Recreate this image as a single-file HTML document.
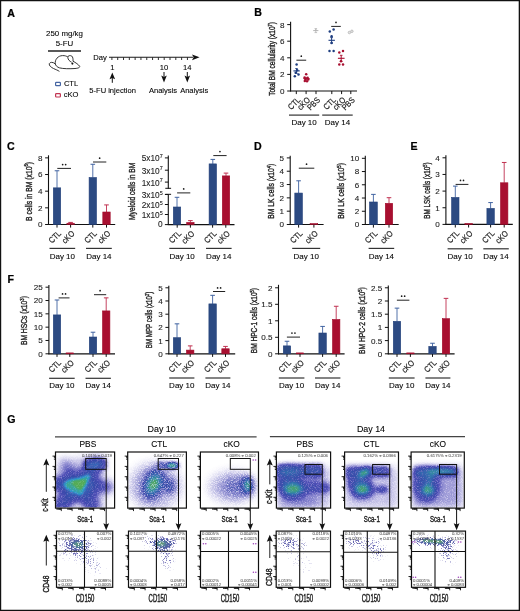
<!DOCTYPE html>
<html><head><meta charset="utf-8"><style>
html,body{margin:0;padding:0;background:#fff;}
svg{display:block;font-family:"Liberation Sans", sans-serif;will-change:transform;}
</style></head><body>
<svg width="520" height="611" viewBox="0 0 520 611">
<rect x="0" y="0" width="520" height="611" fill="#fff"/>
<defs>
<filter id="dm" x="0" y="0" width="1" height="1" color-interpolation-filters="sRGB">
<feGaussianBlur in="SourceGraphic" stdDeviation="0.7" result="d"/>
<feTurbulence type="fractalNoise" baseFrequency="1.2" numOctaves="1" seed="3" result="t"/>
<feColorMatrix in="t" type="matrix" values="1 0 0 0 0  1 0 0 0 0  1 0 0 0 0  0 0 0 0 1" result="ng"/>
<feColorMatrix in="d" type="matrix" values="0 1 0 0 0  0 1 0 0 0  0 1 0 0 0  0 0 0 0 1" result="dg"/>
<feComposite in="dg" in2="ng" operator="arithmetic" k1="-0.5" k2="1.25" k3="0.5" k4="-0.25" result="dj"/>
<feComponentTransfer in="dj" result="col"><feFuncR type="table" tableValues="0.529 0.505 0.481 0.457 0.433 0.408 0.384 0.370 0.356 0.341 0.327 0.312 0.298 0.282 0.265 0.249 0.233 0.220 0.220 0.220 0.220 0.218 0.208 0.198 0.188 0.178 0.189 0.205 0.221 0.241 0.262 0.284 0.306 0.316 0.325 0.335 0.345 0.363 0.412 0.461 0.510"/><feFuncG type="table" tableValues="0.490 0.469 0.447 0.425 0.404 0.382 0.361 0.352 0.342 0.333 0.324 0.315 0.306 0.303 0.299 0.296 0.293 0.295 0.318 0.342 0.365 0.394 0.440 0.486 0.533 0.579 0.603 0.621 0.640 0.650 0.656 0.661 0.667 0.668 0.670 0.672 0.673 0.678 0.694 0.710 0.725"/><feFuncB type="table" tableValues="0.816 0.805 0.795 0.784 0.774 0.763 0.753 0.745 0.737 0.729 0.722 0.714 0.706 0.698 0.690 0.681 0.673 0.669 0.681 0.693 0.704 0.718 0.738 0.759 0.779 0.800 0.755 0.694 0.632 0.572 0.512 0.452 0.392 0.369 0.346 0.324 0.301 0.279 0.265 0.250 0.235"/></feComponentTransfer>
<feColorMatrix in="d" type="matrix" values="0 0 0 0 0  0 0 0 0 0  0 0 0 0 0  4.0 0 0 0 0" result="pa"/>
<feColorMatrix in="t" type="matrix" values="0 0 0 0 0  0 0 0 0 0  0 0 0 0 0  0.8 0 0 0 0.6" result="na"/>
<feComposite in="pa" in2="na" operator="arithmetic" k1="1" k2="0" k3="0" k4="0" result="m"/>
<feComposite in="col" in2="m" operator="in"/>
</filter><filter id="dm2" x="0" y="0" width="1" height="1" color-interpolation-filters="sRGB">
<feGaussianBlur in="SourceGraphic" stdDeviation="0.6" result="d"/>
<feTurbulence type="fractalNoise" baseFrequency="1.3" numOctaves="1" seed="7" result="t"/>
<feColorMatrix in="t" type="matrix" values="1 0 0 0 0  1 0 0 0 0  1 0 0 0 0  0 0 0 0 1" result="ng"/>
<feColorMatrix in="d" type="matrix" values="0 1 0 0 0  0 1 0 0 0  0 1 0 0 0  0 0 0 0 1" result="dg"/>
<feComposite in="dg" in2="ng" operator="arithmetic" k1="-0.9" k2="1.45" k3="0.9" k4="-0.45" result="dj"/>
<feComponentTransfer in="dj" result="col"><feFuncR type="table" tableValues="0.529 0.505 0.481 0.457 0.433 0.408 0.384 0.370 0.356 0.341 0.327 0.312 0.298 0.282 0.265 0.249 0.233 0.219 0.215 0.211 0.207 0.204 0.202 0.200 0.198 0.199 0.211 0.223 0.235 0.257 0.279 0.301 0.315 0.326 0.338 0.349 0.361 0.398 0.435 0.473 0.510"/><feFuncG type="table" tableValues="0.490 0.469 0.447 0.425 0.404 0.382 0.361 0.352 0.342 0.333 0.324 0.315 0.306 0.306 0.306 0.306 0.306 0.310 0.332 0.353 0.375 0.398 0.427 0.457 0.486 0.515 0.542 0.569 0.596 0.612 0.628 0.644 0.652 0.657 0.663 0.669 0.675 0.687 0.700 0.713 0.725"/><feFuncB type="table" tableValues="0.816 0.805 0.795 0.784 0.774 0.763 0.753 0.745 0.737 0.729 0.722 0.714 0.706 0.698 0.690 0.681 0.673 0.668 0.674 0.680 0.685 0.689 0.683 0.677 0.671 0.659 0.623 0.586 0.549 0.500 0.451 0.402 0.374 0.351 0.328 0.305 0.282 0.271 0.259 0.247 0.235"/></feComponentTransfer>
<feColorMatrix in="d" type="matrix" values="0 0 0 0 0  0 0 0 0 0  0 0 0 0 0  3.0 0 0 0 0" result="pa"/>
<feColorMatrix in="t" type="matrix" values="0 0 0 0 0  0 0 0 0 0  0 0 0 0 0  1.9 0 0 0 -0.05" result="na"/>
<feComposite in="pa" in2="na" operator="arithmetic" k1="1" k2="0" k3="0" k4="0" result="m"/>
<feComposite in="col" in2="m" operator="in"/>
</filter><filter id="dm3" x="0" y="0" width="1" height="1" color-interpolation-filters="sRGB">
<feGaussianBlur in="SourceGraphic" stdDeviation="0.7" result="d"/>
<feTurbulence type="fractalNoise" baseFrequency="1.2" numOctaves="1" seed="5" result="t"/>
<feColorMatrix in="t" type="matrix" values="1 0 0 0 0  1 0 0 0 0  1 0 0 0 0  0 0 0 0 1" result="ng"/>
<feColorMatrix in="d" type="matrix" values="0 1 0 0 0  0 1 0 0 0  0 1 0 0 0  0 0 0 0 1" result="dg"/>
<feComposite in="dg" in2="ng" operator="arithmetic" k1="-0.6" k2="1.3" k3="0.6" k4="-0.3" result="dj"/>
<feComponentTransfer in="dj" result="col"><feFuncR type="table" tableValues="0.529 0.505 0.481 0.457 0.433 0.408 0.384 0.370 0.356 0.341 0.327 0.312 0.298 0.282 0.265 0.249 0.233 0.219 0.215 0.211 0.207 0.204 0.202 0.200 0.198 0.199 0.211 0.223 0.235 0.257 0.279 0.301 0.315 0.326 0.338 0.349 0.361 0.398 0.435 0.473 0.510"/><feFuncG type="table" tableValues="0.490 0.469 0.447 0.425 0.404 0.382 0.361 0.352 0.342 0.333 0.324 0.315 0.306 0.306 0.306 0.306 0.306 0.310 0.332 0.353 0.375 0.398 0.427 0.457 0.486 0.515 0.542 0.569 0.596 0.612 0.628 0.644 0.652 0.657 0.663 0.669 0.675 0.687 0.700 0.713 0.725"/><feFuncB type="table" tableValues="0.816 0.805 0.795 0.784 0.774 0.763 0.753 0.745 0.737 0.729 0.722 0.714 0.706 0.698 0.690 0.681 0.673 0.668 0.674 0.680 0.685 0.689 0.683 0.677 0.671 0.659 0.623 0.586 0.549 0.500 0.451 0.402 0.374 0.351 0.328 0.305 0.282 0.271 0.259 0.247 0.235"/></feComponentTransfer>
<feColorMatrix in="d" type="matrix" values="0 0 0 0 0  0 0 0 0 0  0 0 0 0 0  4.0 0 0 0 0" result="pa"/>
<feColorMatrix in="t" type="matrix" values="0 0 0 0 0  0 0 0 0 0  0 0 0 0 0  1.0 0 0 0 0.5" result="na"/>
<feComposite in="pa" in2="na" operator="arithmetic" k1="1" k2="0" k3="0" k4="0" result="m"/>
<feComposite in="col" in2="m" operator="in"/>
</filter><filter id="dm4" x="0" y="0" width="1" height="1" color-interpolation-filters="sRGB">
<feGaussianBlur in="SourceGraphic" stdDeviation="0.6" result="d"/>
<feTurbulence type="fractalNoise" baseFrequency="1.4" numOctaves="1" seed="11" result="t"/>
<feColorMatrix in="t" type="matrix" values="1 0 0 0 0  1 0 0 0 0  1 0 0 0 0  0 0 0 0 1" result="ng"/>
<feColorMatrix in="d" type="matrix" values="0 1 0 0 0  0 1 0 0 0  0 1 0 0 0  0 0 0 0 1" result="dg"/>
<feComposite in="dg" in2="ng" operator="arithmetic" k1="-0.5" k2="1.25" k3="0.5" k4="-0.25" result="dj"/>
<feComponentTransfer in="dj" result="col"><feFuncR type="table" tableValues="0.588 0.571 0.553 0.535 0.518 0.500 0.482 0.465 0.447 0.429 0.412 0.400 0.387 0.375 0.363 0.350 0.338 0.326 0.314 0.317 0.319 0.322 0.325 0.328 0.331 0.336 0.348 0.360 0.373 0.385 0.397 0.409 0.424 0.440 0.455 0.471 0.487 0.502 0.518 0.533 0.549"/><feFuncG type="table" tableValues="0.580 0.562 0.544 0.526 0.508 0.490 0.472 0.454 0.436 0.418 0.400 0.397 0.393 0.390 0.386 0.383 0.379 0.376 0.373 0.396 0.419 0.442 0.465 0.488 0.511 0.533 0.551 0.570 0.588 0.607 0.625 0.643 0.653 0.661 0.668 0.676 0.683 0.691 0.699 0.706 0.714"/><feFuncB type="table" tableValues="0.804 0.793 0.783 0.772 0.762 0.751 0.740 0.730 0.719 0.709 0.698 0.692 0.685 0.679 0.673 0.666 0.660 0.653 0.647 0.638 0.630 0.621 0.612 0.604 0.595 0.582 0.551 0.521 0.490 0.460 0.429 0.398 0.385 0.376 0.367 0.358 0.349 0.340 0.332 0.323 0.314"/></feComponentTransfer>
<feColorMatrix in="d" type="matrix" values="0 0 0 0 0  0 0 0 0 0  0 0 0 0 0  3.0 0 0 0 0" result="pa"/>
<feColorMatrix in="t" type="matrix" values="0 0 0 0 0  0 0 0 0 0  0 0 0 0 0  3.0 0 0 0 -1.0" result="na"/>
<feComposite in="pa" in2="na" operator="arithmetic" k1="0" k2="2.2" k3="2.2" k4="-2.2" result="m"/>
<feComposite in="col" in2="m" operator="in"/>
</filter>
<filter id="b2_5" filterUnits="userSpaceOnUse" x="0" y="400" width="520" height="211"><feGaussianBlur stdDeviation="2.5"/></filter>
<filter id="b4" filterUnits="userSpaceOnUse" x="0" y="400" width="520" height="211"><feGaussianBlur stdDeviation="4"/></filter>
<filter id="b1_5" filterUnits="userSpaceOnUse" x="0" y="400" width="520" height="211"><feGaussianBlur stdDeviation="1.5"/></filter>
<filter id="b1" filterUnits="userSpaceOnUse" x="0" y="400" width="520" height="211"><feGaussianBlur stdDeviation="1"/></filter>
<filter id="b2" filterUnits="userSpaceOnUse" x="0" y="400" width="520" height="211"><feGaussianBlur stdDeviation="2"/></filter>
<filter id="b3" filterUnits="userSpaceOnUse" x="0" y="400" width="520" height="211"><feGaussianBlur stdDeviation="3"/></filter>
<filter id="b5" filterUnits="userSpaceOnUse" x="0" y="400" width="520" height="211"><feGaussianBlur stdDeviation="5"/></filter>
</defs>
<text font-size="11.8" font-weight="bold" fill="#000" stroke="#000" stroke-width="0.25" transform="translate(7.2 16.6) scale(0.9 1)">A</text>
<text x="64.5" y="36.4" font-size="7.9" stroke="#1a1a1a" stroke-width="0.1" text-anchor="middle" >250 mg/kg</text>
<text x="64.4" y="45.6" font-size="7.9" stroke="#1a1a1a" stroke-width="0.1" text-anchor="middle" >5-FU</text>
<line x1="48" y1="51" x2="81" y2="51" stroke="#222" stroke-width="1.3" />
<path d="M55.2,64 C54.8,59.3 58,55.8 62.5,55.6 C64.8,55.5 66.6,56.1 67.9,57.1" stroke="#2a2a2a" stroke-width="0.95" fill="none" />
<path d="M67.9,57.2 C67.6,55.6 70.4,55.1 71.8,56.1 C72.9,56.9 73.2,59.4 73.0,61.2" stroke="#2a2a2a" stroke-width="0.95" fill="none" />
<path d="M67.9,57.4 C67.8,59.6 69.6,61.2 71.6,62.2" stroke="#2a2a2a" stroke-width="0.95" fill="none" />
<path d="M73.0,61.2 C75.6,62.6 78.6,64.6 79.6,66.2 C80.2,67.5 78.2,68.3 75,68.5 C70,68.9 63,68.8 59.6,67.9 C57.2,67.2 55.6,65.6 55.2,63.6" stroke="#2a2a2a" stroke-width="0.95" fill="none" />
<path d="M55,63.8 C53,61.8 50,62 49.3,63.6 C48.8,65.5 51,67.3 53.5,68.5 C55.5,69.5 58,70.3 59.4,71.4" stroke="#2a2a2a" stroke-width="0.95" fill="none" />
<circle cx="72.4" cy="63.6" r="1.05" fill="#111"/>
<rect x="55.6" y="82.3" width="4.8" height="3.4" rx="0.8" fill="none" stroke="#4565a3" stroke-width="1.2"/>
<rect x="55.6" y="93.6" width="4.8" height="3.4" rx="0.8" fill="none" stroke="#c23552" stroke-width="1.2"/>
<text x="63.9" y="86.4" font-size="7.6" stroke="#1a1a1a" stroke-width="0.1" >CTL</text>
<text x="63.7" y="97.4" font-size="7.6" stroke="#1a1a1a" stroke-width="0.1" >cKO</text>
<text x="93.3" y="60.2" font-size="7.6" stroke="#1a1a1a" stroke-width="0.1" >Day</text>
<line x1="109" y1="57.3" x2="193" y2="57.3" stroke="#1a1a1a" stroke-width="1.1" />
<path d="M192,54.4 L199.6,57.3 L192,60.2 L193.6,57.3 Z" fill="#111"/>
<line x1="111.9" y1="57.3" x2="111.9" y2="60.0" stroke="#1a1a1a" stroke-width="0.9" />
<line x1="117.71" y1="57.3" x2="117.71" y2="60.0" stroke="#1a1a1a" stroke-width="0.9" />
<line x1="123.52" y1="57.3" x2="123.52" y2="60.0" stroke="#1a1a1a" stroke-width="0.9" />
<line x1="129.33" y1="57.3" x2="129.33" y2="60.0" stroke="#1a1a1a" stroke-width="0.9" />
<line x1="135.14" y1="57.3" x2="135.14" y2="60.0" stroke="#1a1a1a" stroke-width="0.9" />
<line x1="140.95" y1="57.3" x2="140.95" y2="60.0" stroke="#1a1a1a" stroke-width="0.9" />
<line x1="146.76" y1="57.3" x2="146.76" y2="60.0" stroke="#1a1a1a" stroke-width="0.9" />
<line x1="152.57" y1="57.3" x2="152.57" y2="60.0" stroke="#1a1a1a" stroke-width="0.9" />
<line x1="158.38" y1="57.3" x2="158.38" y2="60.0" stroke="#1a1a1a" stroke-width="0.9" />
<line x1="164.19" y1="57.3" x2="164.19" y2="60.0" stroke="#1a1a1a" stroke-width="0.9" />
<line x1="170.0" y1="57.3" x2="170.0" y2="60.0" stroke="#1a1a1a" stroke-width="0.9" />
<line x1="175.81" y1="57.3" x2="175.81" y2="60.0" stroke="#1a1a1a" stroke-width="0.9" />
<line x1="181.62" y1="57.3" x2="181.62" y2="60.0" stroke="#1a1a1a" stroke-width="0.9" />
<line x1="187.43" y1="57.3" x2="187.43" y2="60.0" stroke="#1a1a1a" stroke-width="0.9" />
<text x="112.3" y="70.0" font-size="7.6" stroke="#1a1a1a" stroke-width="0.1" text-anchor="middle" >1</text>
<text x="164.0" y="70.0" font-size="7.6" stroke="#1a1a1a" stroke-width="0.1" text-anchor="middle" >10</text>
<text x="187.2" y="70.0" font-size="7.6" stroke="#1a1a1a" stroke-width="0.1" text-anchor="middle" >14</text>
<line x1="112.3" y1="76" x2="112.3" y2="82.8" stroke="#111" stroke-width="1.0" />
<path d="M109.5,79.3 L112.3,72.4 L115.1,79.3 L112.3,78 Z" fill="#111"/>
<line x1="164.0" y1="72.0" x2="164.0" y2="78.5" stroke="#111" stroke-width="1.0" />
<path d="M161.2,75.6 L164.0,82.4 L166.8,75.6 L164.0,76.9 Z" fill="#111"/>
<line x1="187.3" y1="72.0" x2="187.3" y2="78.5" stroke="#111" stroke-width="1.0" />
<path d="M184.5,75.6 L187.3,82.4 L190.10000000000002,75.6 L187.3,76.9 Z" fill="#111"/>
<text x="112.6" y="92.8" font-size="7.55" stroke="#1a1a1a" stroke-width="0.1" text-anchor="middle" >5-FU injection</text>
<text x="163.0" y="92.8" font-size="7.55" stroke="#1a1a1a" stroke-width="0.1" text-anchor="middle" >Analysis</text>
<text x="194.2" y="92.8" font-size="7.55" stroke="#1a1a1a" stroke-width="0.1" text-anchor="middle" >Analysis</text>
<text font-size="11.8" font-weight="bold" fill="#000" stroke="#000" stroke-width="0.25" transform="translate(254.3 16.4) scale(0.9 1)">B</text>
<line x1="290.6" y1="21.8" x2="290.6" y2="91.5" stroke="#111" stroke-width="1.1" />
<line x1="287.20000000000005" y1="91.0" x2="290.6" y2="91.0" stroke="#111" stroke-width="1.0" />
<text x="284.5" y="93.9" font-size="8.1" stroke="#222" stroke-width="0.1" text-anchor="end" fill="#222" >0</text>
<line x1="287.20000000000005" y1="74.4" x2="290.6" y2="74.4" stroke="#111" stroke-width="1.0" />
<text x="284.5" y="77.3" font-size="8.1" stroke="#222" stroke-width="0.1" text-anchor="end" fill="#222" >2</text>
<line x1="287.20000000000005" y1="57.8" x2="290.6" y2="57.8" stroke="#111" stroke-width="1.0" />
<text x="284.5" y="60.7" font-size="8.1" stroke="#222" stroke-width="0.1" text-anchor="end" fill="#222" >4</text>
<line x1="287.20000000000005" y1="41.199999999999996" x2="290.6" y2="41.199999999999996" stroke="#111" stroke-width="1.0" />
<text x="284.5" y="44.1" font-size="8.1" stroke="#222" stroke-width="0.1" text-anchor="end" fill="#222" >6</text>
<line x1="287.20000000000005" y1="24.599999999999994" x2="290.6" y2="24.599999999999994" stroke="#111" stroke-width="1.0" />
<text x="284.5" y="27.5" font-size="8.1" stroke="#222" stroke-width="0.1" text-anchor="end" fill="#222" >8</text>
<line x1="290.1" y1="91.0" x2="357" y2="91.0" stroke="#111" stroke-width="1.2" />
<line x1="296.3" y1="91.0" x2="296.3" y2="94.1" stroke="#111" stroke-width="1.0" />
<line x1="306.1" y1="91.0" x2="306.1" y2="94.1" stroke="#111" stroke-width="1.0" />
<line x1="316.0" y1="91.0" x2="316.0" y2="94.1" stroke="#111" stroke-width="1.0" />
<line x1="331.8" y1="91.0" x2="331.8" y2="94.1" stroke="#111" stroke-width="1.0" />
<line x1="341.6" y1="91.0" x2="341.6" y2="94.1" stroke="#111" stroke-width="1.0" />
<line x1="350.8" y1="91.0" x2="350.8" y2="94.1" stroke="#111" stroke-width="1.0" />
<circle cx="296.6" cy="64.4" r="1.25" fill="#1f3e80"/>
<circle cx="294.8" cy="76.2" r="1.25" fill="#1f3e80"/>
<circle cx="298.5" cy="74.6" r="1.25" fill="#1f3e80"/>
<circle cx="295.7" cy="72.8" r="1.25" fill="#1f3e80"/>
<circle cx="297.2" cy="70.2" r="1.25" fill="#1f3e80"/>
<line x1="293.4" y1="70.9" x2="299.8" y2="70.9" stroke="#1f3e80" stroke-width="1.1" />
<line x1="296.5" y1="68.6" x2="296.5" y2="73.3" stroke="#1f3e80" stroke-width="1.0" />
<line x1="295.2" y1="68.6" x2="297.8" y2="68.6" stroke="#1f3e80" stroke-width="0.9" />
<line x1="295.2" y1="73.3" x2="297.8" y2="73.3" stroke="#1f3e80" stroke-width="0.9" />
<circle cx="306.2" cy="74.2" r="1.25" fill="#a80f30"/>
<circle cx="304.6" cy="77.6" r="1.25" fill="#a80f30"/>
<circle cx="307.6" cy="77.8" r="1.25" fill="#a80f30"/>
<circle cx="305.4" cy="79.4" r="1.25" fill="#a80f30"/>
<circle cx="308.3" cy="79.6" r="1.25" fill="#a80f30"/>
<circle cx="304.8" cy="80.9" r="1.25" fill="#a80f30"/>
<circle cx="307.0" cy="81.2" r="1.25" fill="#a80f30"/>
<circle cx="306.2" cy="78.6" r="1.25" fill="#a80f30"/>
<line x1="303.3" y1="78.6" x2="309.6" y2="78.6" stroke="#a80f30" stroke-width="1.0" />
<line x1="313.2" y1="30.6" x2="318.4" y2="30.6" stroke="#b5b5b5" stroke-width="1.0" />
<line x1="315.8" y1="28.6" x2="315.8" y2="32.6" stroke="#b5b5b5" stroke-width="0.9" />
<line x1="314.5" y1="28.6" x2="317.1" y2="28.6" stroke="#b5b5b5" stroke-width="0.8" />
<line x1="314.5" y1="32.6" x2="317.1" y2="32.6" stroke="#b5b5b5" stroke-width="0.8" />
<circle cx="315.8" cy="30.2" r="0.9" fill="#b5b5b5"/>
<circle cx="329.8" cy="31.4" r="1.25" fill="#1f3e80"/>
<circle cx="333.6" cy="29.6" r="1.25" fill="#1f3e80"/>
<circle cx="331.6" cy="36.3" r="1.25" fill="#1f3e80"/>
<circle cx="331.6" cy="43.0" r="1.25" fill="#1f3e80"/>
<circle cx="329.5" cy="51.1" r="1.25" fill="#1f3e80"/>
<circle cx="333.6" cy="51.1" r="1.25" fill="#1f3e80"/>
<line x1="328.5" y1="40.3" x2="334.9" y2="40.3" stroke="#1f3e80" stroke-width="1.1" />
<line x1="331.6" y1="37.6" x2="331.6" y2="43.0" stroke="#1f3e80" stroke-width="1.0" />
<line x1="330.3" y1="37.6" x2="332.9" y2="37.6" stroke="#1f3e80" stroke-width="0.9" />
<line x1="330.3" y1="43.0" x2="332.9" y2="43.0" stroke="#1f3e80" stroke-width="0.9" />
<circle cx="339.3" cy="52.6" r="1.25" fill="#a80f30"/>
<circle cx="343.0" cy="51.1" r="1.25" fill="#a80f30"/>
<circle cx="339.3" cy="64.5" r="1.25" fill="#a80f30"/>
<circle cx="343.0" cy="64.5" r="1.25" fill="#a80f30"/>
<circle cx="341.0" cy="61.2" r="1.25" fill="#a80f30"/>
<line x1="337.9" y1="58.3" x2="344.6" y2="58.3" stroke="#a80f30" stroke-width="1.1" />
<line x1="341.2" y1="55.3" x2="341.2" y2="61.3" stroke="#a80f30" stroke-width="1.0" />
<line x1="339.9" y1="55.3" x2="342.5" y2="55.3" stroke="#a80f30" stroke-width="0.9" />
<line x1="339.9" y1="61.3" x2="342.5" y2="61.3" stroke="#a80f30" stroke-width="0.9" />
<circle cx="349.4" cy="32.5" r="1.25" fill="#e4e4e4" stroke="#b5b5b5" stroke-width="0.8"/><circle cx="351.9" cy="31.3" r="1.25" fill="#e4e4e4" stroke="#b5b5b5" stroke-width="0.8"/>
<line x1="296.4" y1="60.2" x2="306.2" y2="60.2" stroke="#222" stroke-width="1.0" />
<circle cx="301.30" cy="56.20" r="0.85" fill="#1a1a1a"/>
<line x1="331.2" y1="26.4" x2="340.8" y2="26.4" stroke="#222" stroke-width="1.0" />
<circle cx="336.00" cy="22.40" r="0.85" fill="#1a1a1a"/>
<text font-size="8.4" text-anchor="end" fill="#222" stroke="#222" stroke-width="0.2" transform="translate(300.90 100.60) rotate(-45) scale(0.86 1)">CTL</text>
<text font-size="8.4" text-anchor="end" fill="#222" stroke="#222" stroke-width="0.2" transform="translate(310.70 100.60) rotate(-45) scale(0.86 1)">cKO</text>
<text font-size="8.4" text-anchor="end" fill="#222" stroke="#222" stroke-width="0.2" transform="translate(320.60 100.60) rotate(-45) scale(0.86 1)">PBS</text>
<text font-size="8.4" text-anchor="end" fill="#222" stroke="#222" stroke-width="0.2" transform="translate(336.40 100.60) rotate(-45) scale(0.86 1)">CTL</text>
<text font-size="8.4" text-anchor="end" fill="#222" stroke="#222" stroke-width="0.2" transform="translate(346.20 100.60) rotate(-45) scale(0.86 1)">cKO</text>
<text font-size="8.4" text-anchor="end" fill="#222" stroke="#222" stroke-width="0.2" transform="translate(355.40 100.60) rotate(-45) scale(0.86 1)">PBS</text>
<line x1="289" y1="115.1" x2="319.2" y2="115.1" stroke="#333" stroke-width="1.2" />
<text x="304.1" y="124.9" font-size="8.0" stroke="#1a1a1a" stroke-width="0.1" text-anchor="middle" >Day 10</text>
<line x1="322.2" y1="115.1" x2="352.7" y2="115.1" stroke="#333" stroke-width="1.2" />
<text x="337.45" y="124.9" font-size="8.0" stroke="#1a1a1a" stroke-width="0.1" text-anchor="middle" >Day 14</text>
<text font-size="8.8" text-anchor="middle" fill="#222" stroke="#222" stroke-width="0.36" transform="translate(275.4 58.9) rotate(-90) scale(0.748 1)">Total BM cellularity (x10<tspan font-size="5.46" dy="-3.52">7</tspan><tspan dy="3.52">)</tspan></text>
<text font-size="11.8" font-weight="bold" fill="#000" stroke="#000" stroke-width="0.25" transform="translate(7.0 149.6) scale(0.9 1)">C</text>
<line x1="48.5" y1="155.3" x2="48.5" y2="225.0" stroke="#111" stroke-width="1.1" />
<line x1="45.1" y1="224.5" x2="48.5" y2="224.5" stroke="#111" stroke-width="1.0" />
<text x="42.4" y="227.4" font-size="8.1" stroke="#222" stroke-width="0.1" text-anchor="end" fill="#222" >0</text>
<line x1="45.1" y1="207.84" x2="48.5" y2="207.84" stroke="#111" stroke-width="1.0" />
<text x="42.4" y="210.74" font-size="8.1" stroke="#222" stroke-width="0.1" text-anchor="end" fill="#222" >2</text>
<line x1="45.1" y1="191.18" x2="48.5" y2="191.18" stroke="#111" stroke-width="1.0" />
<text x="42.4" y="194.08" font-size="8.1" stroke="#222" stroke-width="0.1" text-anchor="end" fill="#222" >4</text>
<line x1="45.1" y1="174.51999999999998" x2="48.5" y2="174.51999999999998" stroke="#111" stroke-width="1.0" />
<text x="42.4" y="177.42" font-size="8.1" stroke="#222" stroke-width="0.1" text-anchor="end" fill="#222" >6</text>
<line x1="45.1" y1="157.86" x2="48.5" y2="157.86" stroke="#111" stroke-width="1.0" />
<text x="42.4" y="160.76" font-size="8.1" stroke="#222" stroke-width="0.1" text-anchor="end" fill="#222" >8</text>
<line x1="48.0" y1="224.5" x2="115.2" y2="224.5" stroke="#111" stroke-width="1.2" />
<line x1="57.0" y1="224.5" x2="57.0" y2="227.6" stroke="#111" stroke-width="1.0" />
<line x1="70.6" y1="224.5" x2="70.6" y2="227.6" stroke="#111" stroke-width="1.0" />
<line x1="92.8" y1="224.5" x2="92.8" y2="227.6" stroke="#111" stroke-width="1.0" />
<line x1="106.5" y1="224.5" x2="106.5" y2="227.6" stroke="#111" stroke-width="1.0" />
<line x1="57.0" y1="170.77" x2="57.0" y2="187.85" stroke="#3f62a0" stroke-width="0.9" />
<line x1="54.7" y1="170.77" x2="59.3" y2="170.77" stroke="#3f62a0" stroke-width="1.0" />
<rect x="53.30" y="187.85" width="7.40" height="36.65" fill="#2c4a82" stroke="#22407a" stroke-width="0.6"/>
<line x1="70.6" y1="222.42" x2="70.6" y2="223.25" stroke="#c0304f" stroke-width="0.9" />
<line x1="68.3" y1="222.42" x2="72.89999999999999" y2="222.42" stroke="#c0304f" stroke-width="1.0" />
<rect x="66.90" y="223.25" width="7.40" height="1.25" fill="#a80f30" stroke="#a00a2a" stroke-width="0.6"/>
<line x1="92.8" y1="164.27" x2="92.8" y2="177.52" stroke="#3f62a0" stroke-width="0.9" />
<line x1="90.5" y1="164.27" x2="95.1" y2="164.27" stroke="#3f62a0" stroke-width="1.0" />
<rect x="89.10" y="177.52" width="7.40" height="46.98" fill="#2c4a82" stroke="#22407a" stroke-width="0.6"/>
<line x1="106.5" y1="204.92" x2="106.5" y2="212.0" stroke="#c0304f" stroke-width="0.9" />
<line x1="104.2" y1="204.92" x2="108.8" y2="204.92" stroke="#c0304f" stroke-width="1.0" />
<rect x="102.80" y="212.00" width="7.40" height="12.50" fill="#a80f30" stroke="#a00a2a" stroke-width="0.6"/>
<line x1="57.3" y1="168.4" x2="71.0" y2="168.4" stroke="#222" stroke-width="1.0" />
<circle cx="62.65" cy="164.60" r="0.85" fill="#1a1a1a"/>
<circle cx="65.65" cy="164.60" r="0.85" fill="#1a1a1a"/>
<line x1="93.0" y1="162.0" x2="106.3" y2="162.0" stroke="#222" stroke-width="1.0" />
<circle cx="99.65" cy="158.20" r="0.85" fill="#1a1a1a"/>
<text font-size="8.4" text-anchor="end" fill="#222" stroke="#222" stroke-width="0.2" transform="translate(61.60 234.10) rotate(-45) scale(0.86 1)">CTL</text>
<text font-size="8.4" text-anchor="end" fill="#222" stroke="#222" stroke-width="0.2" transform="translate(75.20 234.10) rotate(-45) scale(0.86 1)">cKO</text>
<text font-size="8.4" text-anchor="end" fill="#222" stroke="#222" stroke-width="0.2" transform="translate(97.40 234.10) rotate(-45) scale(0.86 1)">CTL</text>
<text font-size="8.4" text-anchor="end" fill="#222" stroke="#222" stroke-width="0.2" transform="translate(111.10 234.10) rotate(-45) scale(0.86 1)">cKO</text>
<line x1="49.5" y1="248.4" x2="75.2" y2="248.4" stroke="#333" stroke-width="1.2" />
<text x="62.35" y="258.5" font-size="8.0" stroke="#1a1a1a" stroke-width="0.1" text-anchor="middle" >Day 10</text>
<line x1="86.0" y1="248.4" x2="111.8" y2="248.4" stroke="#333" stroke-width="1.2" />
<text x="98.9" y="258.5" font-size="8.0" stroke="#1a1a1a" stroke-width="0.1" text-anchor="middle" >Day 14</text>
<text font-size="8.8" text-anchor="middle" fill="#222" stroke="#222" stroke-width="0.36" transform="translate(31.5 191.4) rotate(-90) scale(0.772 1)">B cells in BM (x10<tspan font-size="5.46" dy="-3.52">6</tspan><tspan dy="3.52">)</tspan></text>
<line x1="168.3" y1="155.4" x2="168.3" y2="188.8" stroke="#111" stroke-width="1.1" />
<line x1="168.3" y1="194.2" x2="168.3" y2="225.1" stroke="#111" stroke-width="1.1" />
<line x1="165.3" y1="188.3" x2="171.10000000000002" y2="188.3" stroke="#111" stroke-width="1.0" />
<line x1="165.3" y1="194.3" x2="171.10000000000002" y2="194.3" stroke="#111" stroke-width="1.0" />
<line x1="164.9" y1="157.9" x2="168.3" y2="157.9" stroke="#111" stroke-width="1.0" />
<text x="162.70000000000002" y="161.40" font-size="8.3" text-anchor="end" fill="#222" stroke="#222" stroke-width="0.1">5x10<tspan font-size="5.4" dy="-3.5">7</tspan></text>
<line x1="164.9" y1="170.2" x2="168.3" y2="170.2" stroke="#111" stroke-width="1.0" />
<text x="162.70000000000002" y="173.70" font-size="8.3" text-anchor="end" fill="#222" stroke="#222" stroke-width="0.1">3x10<tspan font-size="5.4" dy="-3.5">7</tspan></text>
<line x1="164.9" y1="182.1" x2="168.3" y2="182.1" stroke="#111" stroke-width="1.0" />
<text x="162.70000000000002" y="185.60" font-size="8.3" text-anchor="end" fill="#222" stroke="#222" stroke-width="0.1">1x10<tspan font-size="5.4" dy="-3.5">7</tspan></text>
<line x1="164.9" y1="194.5" x2="168.3" y2="194.5" stroke="#111" stroke-width="1.0" />
<text x="162.70000000000002" y="198.00" font-size="8.3" text-anchor="end" fill="#222" stroke="#222" stroke-width="0.1">3x10<tspan font-size="5.4" dy="-3.5">5</tspan></text>
<line x1="164.9" y1="204.5" x2="168.3" y2="204.5" stroke="#111" stroke-width="1.0" />
<text x="162.70000000000002" y="208.00" font-size="8.3" text-anchor="end" fill="#222" stroke="#222" stroke-width="0.1">2x10<tspan font-size="5.4" dy="-3.5">5</tspan></text>
<line x1="164.9" y1="214.5" x2="168.3" y2="214.5" stroke="#111" stroke-width="1.0" />
<text x="162.70000000000002" y="218.00" font-size="8.3" text-anchor="end" fill="#222" stroke="#222" stroke-width="0.1">1x10<tspan font-size="5.4" dy="-3.5">5</tspan></text>
<line x1="164.9" y1="224.6" x2="168.3" y2="224.6" stroke="#111" stroke-width="1.0" />
<text x="162.70000000000002" y="227.2" font-size="8.3" stroke="#222" stroke-width="0.1" text-anchor="end" fill="#222" >0</text>
<line x1="167.8" y1="224.6" x2="234.5" y2="224.6" stroke="#111" stroke-width="1.2" />
<line x1="177.2" y1="224.6" x2="177.2" y2="227.7" stroke="#111" stroke-width="1.0" />
<line x1="190.4" y1="224.6" x2="190.4" y2="227.7" stroke="#111" stroke-width="1.0" />
<line x1="212.6" y1="224.6" x2="212.6" y2="227.7" stroke="#111" stroke-width="1.0" />
<line x1="225.8" y1="224.6" x2="225.8" y2="227.7" stroke="#111" stroke-width="1.0" />
<line x1="177.0" y1="197.3" x2="177.0" y2="207.0" stroke="#3f62a0" stroke-width="0.9" />
<line x1="174.7" y1="197.3" x2="179.3" y2="197.3" stroke="#3f62a0" stroke-width="1.0" />
<rect x="173.30" y="207.00" width="7.4" height="17.60" fill="#2c4a82" stroke="#22407a" stroke-width="0.6"/>
<line x1="190.4" y1="220.6" x2="190.4" y2="222.4" stroke="#c0304f" stroke-width="0.9" />
<line x1="188.1" y1="220.6" x2="192.70000000000002" y2="220.6" stroke="#c0304f" stroke-width="1.0" />
<rect x="186.70" y="222.40" width="7.4" height="2.20" fill="#a80f30" stroke="#a00a2a" stroke-width="0.6"/>
<line x1="212.8" y1="159.4" x2="212.8" y2="163.9" stroke="#3f62a0" stroke-width="0.9" />
<line x1="210.5" y1="159.4" x2="215.10000000000002" y2="159.4" stroke="#3f62a0" stroke-width="1.0" />
<rect x="209.10" y="163.90" width="7.4" height="60.70" fill="#2c4a82" stroke="#22407a" stroke-width="0.6"/>
<line x1="226.0" y1="173.1" x2="226.0" y2="175.9" stroke="#c0304f" stroke-width="0.9" />
<line x1="223.7" y1="173.1" x2="228.3" y2="173.1" stroke="#c0304f" stroke-width="1.0" />
<rect x="222.30" y="175.90" width="7.4" height="48.70" fill="#a80f30" stroke="#a00a2a" stroke-width="0.6"/>
<line x1="177.1" y1="192.9" x2="190.3" y2="192.9" stroke="#222" stroke-width="1.0" />
<circle cx="183.70" cy="188.90" r="0.85" fill="#1a1a1a"/>
<line x1="213.3" y1="155.6" x2="226.6" y2="155.6" stroke="#222" stroke-width="1.0" />
<circle cx="219.95" cy="151.60" r="0.85" fill="#1a1a1a"/>
<text font-size="8.4" text-anchor="end" fill="#222" stroke="#222" stroke-width="0.2" transform="translate(181.80 234.20) rotate(-45) scale(0.86 1)">CTL</text>
<text font-size="8.4" text-anchor="end" fill="#222" stroke="#222" stroke-width="0.2" transform="translate(195.00 234.20) rotate(-45) scale(0.86 1)">cKO</text>
<text font-size="8.4" text-anchor="end" fill="#222" stroke="#222" stroke-width="0.2" transform="translate(217.20 234.20) rotate(-45) scale(0.86 1)">CTL</text>
<text font-size="8.4" text-anchor="end" fill="#222" stroke="#222" stroke-width="0.2" transform="translate(230.40 234.20) rotate(-45) scale(0.86 1)">cKO</text>
<line x1="169.3" y1="248.4" x2="195.0" y2="248.4" stroke="#333" stroke-width="1.2" />
<text x="182.15" y="258.5" font-size="8.0" stroke="#1a1a1a" stroke-width="0.1" text-anchor="middle" >Day 10</text>
<line x1="206.0" y1="248.4" x2="231.6" y2="248.4" stroke="#333" stroke-width="1.2" />
<text x="218.8" y="258.5" font-size="8.0" stroke="#1a1a1a" stroke-width="0.1" text-anchor="middle" >Day 14</text>
<text font-size="8.8" text-anchor="middle" fill="#222" stroke="#222" stroke-width="0.36" transform="translate(135.4 191.3) rotate(-90) scale(0.762 1)">Myeloid cells in BM</text>
<text font-size="11.8" font-weight="bold" fill="#000" stroke="#000" stroke-width="0.25" transform="translate(254.0 149.6) scale(0.9 1)">D</text>
<line x1="290.2" y1="155.8" x2="290.2" y2="225.0" stroke="#111" stroke-width="1.1" />
<line x1="286.8" y1="224.5" x2="290.2" y2="224.5" stroke="#111" stroke-width="1.0" />
<text x="284.1" y="227.4" font-size="8.1" stroke="#222" stroke-width="0.1" text-anchor="end" fill="#222" >0</text>
<line x1="286.8" y1="211.18" x2="290.2" y2="211.18" stroke="#111" stroke-width="1.0" />
<text x="284.1" y="214.08" font-size="8.1" stroke="#222" stroke-width="0.1" text-anchor="end" fill="#222" >1</text>
<line x1="286.8" y1="197.86" x2="290.2" y2="197.86" stroke="#111" stroke-width="1.0" />
<text x="284.1" y="200.76" font-size="8.1" stroke="#222" stroke-width="0.1" text-anchor="end" fill="#222" >2</text>
<line x1="286.8" y1="184.54" x2="290.2" y2="184.54" stroke="#111" stroke-width="1.0" />
<text x="284.1" y="187.44" font-size="8.1" stroke="#222" stroke-width="0.1" text-anchor="end" fill="#222" >3</text>
<line x1="286.8" y1="171.22" x2="290.2" y2="171.22" stroke="#111" stroke-width="1.0" />
<text x="284.1" y="174.12" font-size="8.1" stroke="#222" stroke-width="0.1" text-anchor="end" fill="#222" >4</text>
<line x1="286.8" y1="157.9" x2="290.2" y2="157.9" stroke="#111" stroke-width="1.0" />
<text x="284.1" y="160.8" font-size="8.1" stroke="#222" stroke-width="0.1" text-anchor="end" fill="#222" >5</text>
<line x1="289.7" y1="224.5" x2="323.6" y2="224.5" stroke="#111" stroke-width="1.2" />
<line x1="298.6" y1="224.5" x2="298.6" y2="227.6" stroke="#111" stroke-width="1.0" />
<line x1="313.9" y1="224.5" x2="313.9" y2="227.6" stroke="#111" stroke-width="1.0" />
<line x1="298.6" y1="180.81" x2="298.6" y2="193.06" stroke="#3f62a0" stroke-width="0.9" />
<line x1="296.3" y1="180.81" x2="300.90000000000003" y2="180.81" stroke="#3f62a0" stroke-width="1.0" />
<rect x="294.80" y="193.06" width="7.60" height="31.44" fill="#2c4a82" stroke="#22407a" stroke-width="0.6"/>
<rect x="310.10" y="223.60" width="7.60" height="0.90" fill="#a80f30" stroke="#a00a2a" stroke-width="0.6"/>
<line x1="298.8" y1="168.2" x2="314.3" y2="168.2" stroke="#222" stroke-width="1.0" />
<circle cx="306.55" cy="164.20" r="0.85" fill="#1a1a1a"/>
<text font-size="8.4" text-anchor="end" fill="#222" stroke="#222" stroke-width="0.2" transform="translate(303.20 234.10) rotate(-45) scale(0.86 1)">CTL</text>
<text font-size="8.4" text-anchor="end" fill="#222" stroke="#222" stroke-width="0.2" transform="translate(318.50 234.10) rotate(-45) scale(0.86 1)">cKO</text>
<line x1="292.2" y1="248.4" x2="320.2" y2="248.4" stroke="#333" stroke-width="1.2" />
<text x="306.2" y="258.5" font-size="8.0" stroke="#1a1a1a" stroke-width="0.1" text-anchor="middle" >Day 10</text>
<text font-size="8.8" text-anchor="middle" fill="#222" stroke="#222" stroke-width="0.36" transform="translate(274.3 191.2) rotate(-90) scale(0.767 1)">BM LK cells (x10<tspan font-size="5.46" dy="-3.52">4</tspan><tspan dy="3.52">)</tspan></text>
<line x1="365.3" y1="155.8" x2="365.3" y2="225.0" stroke="#111" stroke-width="1.1" />
<line x1="361.90000000000003" y1="224.5" x2="365.3" y2="224.5" stroke="#111" stroke-width="1.0" />
<text x="359.2" y="227.4" font-size="8.1" stroke="#222" stroke-width="0.1" text-anchor="end" fill="#222" >0</text>
<line x1="361.90000000000003" y1="211.26" x2="365.3" y2="211.26" stroke="#111" stroke-width="1.0" />
<text x="359.2" y="214.16" font-size="8.1" stroke="#222" stroke-width="0.1" text-anchor="end" fill="#222" >2</text>
<line x1="361.90000000000003" y1="198.02" x2="365.3" y2="198.02" stroke="#111" stroke-width="1.0" />
<text x="359.2" y="200.92" font-size="8.1" stroke="#222" stroke-width="0.1" text-anchor="end" fill="#222" >4</text>
<line x1="361.90000000000003" y1="184.78" x2="365.3" y2="184.78" stroke="#111" stroke-width="1.0" />
<text x="359.2" y="187.68" font-size="8.1" stroke="#222" stroke-width="0.1" text-anchor="end" fill="#222" >6</text>
<line x1="361.90000000000003" y1="171.54" x2="365.3" y2="171.54" stroke="#111" stroke-width="1.0" />
<text x="359.2" y="174.44" font-size="8.1" stroke="#222" stroke-width="0.1" text-anchor="end" fill="#222" >8</text>
<line x1="361.90000000000003" y1="158.3" x2="365.3" y2="158.3" stroke="#111" stroke-width="1.0" />
<text x="359.2" y="161.2" font-size="8.1" stroke="#222" stroke-width="0.1" text-anchor="end" fill="#222" >10</text>
<line x1="364.8" y1="224.5" x2="398.7" y2="224.5" stroke="#111" stroke-width="1.2" />
<line x1="373.4" y1="224.5" x2="373.4" y2="227.6" stroke="#111" stroke-width="1.0" />
<line x1="389.0" y1="224.5" x2="389.0" y2="227.6" stroke="#111" stroke-width="1.0" />
<line x1="373.4" y1="194.38" x2="373.4" y2="201.99" stroke="#3f62a0" stroke-width="0.9" />
<line x1="371.09999999999997" y1="194.38" x2="375.7" y2="194.38" stroke="#3f62a0" stroke-width="1.0" />
<rect x="369.50" y="201.99" width="7.80" height="22.51" fill="#2c4a82" stroke="#22407a" stroke-width="0.6"/>
<line x1="389.0" y1="197.69" x2="389.0" y2="203.32" stroke="#c0304f" stroke-width="0.9" />
<line x1="386.7" y1="197.69" x2="391.3" y2="197.69" stroke="#c0304f" stroke-width="1.0" />
<rect x="385.30" y="203.32" width="7.40" height="21.18" fill="#a80f30" stroke="#a00a2a" stroke-width="0.6"/>
<text font-size="8.4" text-anchor="end" fill="#222" stroke="#222" stroke-width="0.2" transform="translate(378.00 234.10) rotate(-45) scale(0.86 1)">CTL</text>
<text font-size="8.4" text-anchor="end" fill="#222" stroke="#222" stroke-width="0.2" transform="translate(393.60 234.10) rotate(-45) scale(0.86 1)">cKO</text>
<line x1="368.6" y1="248.4" x2="394.2" y2="248.4" stroke="#333" stroke-width="1.2" />
<text x="381.4" y="258.5" font-size="8.0" stroke="#1a1a1a" stroke-width="0.1" text-anchor="middle" >Day 14</text>
<text font-size="8.8" text-anchor="middle" fill="#222" stroke="#222" stroke-width="0.36" transform="translate(344.3 190.9) rotate(-90) scale(0.775 1)">BM LK cells (x10<tspan font-size="5.46" dy="-3.52">5</tspan><tspan dy="3.52">)</tspan></text>
<text font-size="11.8" font-weight="bold" fill="#000" stroke="#000" stroke-width="0.25" transform="translate(410.6 150.4) scale(0.9 1)">E</text>
<line x1="445.9" y1="155.2" x2="445.9" y2="224.9" stroke="#111" stroke-width="1.1" />
<line x1="442.5" y1="224.4" x2="445.9" y2="224.4" stroke="#111" stroke-width="1.0" />
<text x="439.8" y="227.3" font-size="8.1" stroke="#222" stroke-width="0.1" text-anchor="end" fill="#222" >0</text>
<line x1="442.5" y1="207.75" x2="445.9" y2="207.75" stroke="#111" stroke-width="1.0" />
<text x="439.8" y="210.65" font-size="8.1" stroke="#222" stroke-width="0.1" text-anchor="end" fill="#222" >1</text>
<line x1="442.5" y1="191.10000000000002" x2="445.9" y2="191.10000000000002" stroke="#111" stroke-width="1.0" />
<text x="439.8" y="194.0" font-size="8.1" stroke="#222" stroke-width="0.1" text-anchor="end" fill="#222" >2</text>
<line x1="442.5" y1="174.45000000000002" x2="445.9" y2="174.45000000000002" stroke="#111" stroke-width="1.0" />
<text x="439.8" y="177.35" font-size="8.1" stroke="#222" stroke-width="0.1" text-anchor="end" fill="#222" >3</text>
<line x1="442.5" y1="157.8" x2="445.9" y2="157.8" stroke="#111" stroke-width="1.0" />
<text x="439.8" y="160.7" font-size="8.1" stroke="#222" stroke-width="0.1" text-anchor="end" fill="#222" >4</text>
<line x1="445.4" y1="224.4" x2="512.8" y2="224.4" stroke="#111" stroke-width="1.2" />
<line x1="455.3" y1="224.4" x2="455.3" y2="227.5" stroke="#111" stroke-width="1.0" />
<line x1="468.6" y1="224.4" x2="468.6" y2="227.5" stroke="#111" stroke-width="1.0" />
<line x1="490.6" y1="224.4" x2="490.6" y2="227.5" stroke="#111" stroke-width="1.0" />
<line x1="504.2" y1="224.4" x2="504.2" y2="227.5" stroke="#111" stroke-width="1.0" />
<line x1="455.3" y1="186.11" x2="455.3" y2="197.43" stroke="#3f62a0" stroke-width="0.9" />
<line x1="453.0" y1="186.11" x2="457.6" y2="186.11" stroke="#3f62a0" stroke-width="1.0" />
<rect x="451.60" y="197.43" width="7.40" height="26.97" fill="#2c4a82" stroke="#22407a" stroke-width="0.6"/>
<rect x="464.90" y="223.50" width="7.40" height="0.90" fill="#a80f30" stroke="#a00a2a" stroke-width="0.6"/>
<line x1="490.6" y1="202.59" x2="490.6" y2="208.42" stroke="#3f62a0" stroke-width="0.9" />
<line x1="488.3" y1="202.59" x2="492.90000000000003" y2="202.59" stroke="#3f62a0" stroke-width="1.0" />
<rect x="486.90" y="208.42" width="7.40" height="15.98" fill="#2c4a82" stroke="#22407a" stroke-width="0.6"/>
<line x1="504.2" y1="162.46" x2="504.2" y2="182.78" stroke="#c0304f" stroke-width="0.9" />
<line x1="501.9" y1="162.46" x2="506.5" y2="162.46" stroke="#c0304f" stroke-width="1.0" />
<rect x="500.50" y="182.78" width="7.40" height="41.62" fill="#a80f30" stroke="#a00a2a" stroke-width="0.6"/>
<line x1="455.6" y1="184.4" x2="468.4" y2="184.4" stroke="#222" stroke-width="1.0" />
<circle cx="460.50" cy="180.40" r="0.85" fill="#1a1a1a"/>
<circle cx="463.50" cy="180.40" r="0.85" fill="#1a1a1a"/>
<text font-size="8.4" text-anchor="end" fill="#222" stroke="#222" stroke-width="0.2" transform="translate(459.90 234.00) rotate(-45) scale(0.86 1)">CTL</text>
<text font-size="8.4" text-anchor="end" fill="#222" stroke="#222" stroke-width="0.2" transform="translate(473.20 234.00) rotate(-45) scale(0.86 1)">cKO</text>
<text font-size="8.4" text-anchor="end" fill="#222" stroke="#222" stroke-width="0.2" transform="translate(495.20 234.00) rotate(-45) scale(0.86 1)">CTL</text>
<text font-size="8.4" text-anchor="end" fill="#222" stroke="#222" stroke-width="0.2" transform="translate(508.80 234.00) rotate(-45) scale(0.86 1)">cKO</text>
<line x1="447.6" y1="248.8" x2="472.7" y2="248.8" stroke="#333" stroke-width="1.2" />
<text x="460.15" y="258.90000000000003" font-size="8.0" stroke="#1a1a1a" stroke-width="0.1" text-anchor="middle" >Day 10</text>
<line x1="483.3" y1="248.8" x2="508.8" y2="248.8" stroke="#333" stroke-width="1.2" />
<text x="496.05" y="258.90000000000003" font-size="8.0" stroke="#1a1a1a" stroke-width="0.1" text-anchor="middle" >Day 14</text>
<text font-size="8.8" text-anchor="middle" fill="#222" stroke="#222" stroke-width="0.36" transform="translate(430.3 190.6) rotate(-90) scale(0.724 1)">BM LSK cells (x10<tspan font-size="5.46" dy="-3.52">5</tspan><tspan dy="3.52">)</tspan></text>
<text font-size="11.8" font-weight="bold" fill="#000" stroke="#000" stroke-width="0.25" transform="translate(7.4 283.3) scale(0.9 1)">F</text>
<line x1="48.9" y1="285.1" x2="48.9" y2="354.3" stroke="#111" stroke-width="1.1" />
<line x1="45.5" y1="353.8" x2="48.9" y2="353.8" stroke="#111" stroke-width="1.0" />
<text x="42.8" y="356.7" font-size="8.1" stroke="#222" stroke-width="0.1" text-anchor="end" fill="#222" >0</text>
<line x1="45.5" y1="340.48" x2="48.9" y2="340.48" stroke="#111" stroke-width="1.0" />
<text x="42.8" y="343.38" font-size="8.1" stroke="#222" stroke-width="0.1" text-anchor="end" fill="#222" >5</text>
<line x1="45.5" y1="327.16" x2="48.9" y2="327.16" stroke="#111" stroke-width="1.0" />
<text x="42.8" y="330.06" font-size="8.1" stroke="#222" stroke-width="0.1" text-anchor="end" fill="#222" >10</text>
<line x1="45.5" y1="313.84000000000003" x2="48.9" y2="313.84000000000003" stroke="#111" stroke-width="1.0" />
<text x="42.8" y="316.74" font-size="8.1" stroke="#222" stroke-width="0.1" text-anchor="end" fill="#222" >15</text>
<line x1="45.5" y1="300.52" x2="48.9" y2="300.52" stroke="#111" stroke-width="1.0" />
<text x="42.8" y="303.42" font-size="8.1" stroke="#222" stroke-width="0.1" text-anchor="end" fill="#222" >20</text>
<line x1="45.5" y1="287.2" x2="48.9" y2="287.2" stroke="#111" stroke-width="1.0" />
<text x="42.8" y="290.1" font-size="8.1" stroke="#222" stroke-width="0.1" text-anchor="end" fill="#222" >25</text>
<line x1="48.4" y1="353.8" x2="115.0" y2="353.8" stroke="#111" stroke-width="1.2" />
<line x1="57.0" y1="353.8" x2="57.0" y2="356.90000000000003" stroke="#111" stroke-width="1.0" />
<line x1="69.8" y1="353.8" x2="69.8" y2="356.90000000000003" stroke="#111" stroke-width="1.0" />
<line x1="93.0" y1="353.8" x2="93.0" y2="356.90000000000003" stroke="#111" stroke-width="1.0" />
<line x1="106.2" y1="353.8" x2="106.2" y2="356.90000000000003" stroke="#111" stroke-width="1.0" />
<line x1="57.0" y1="299.99" x2="57.0" y2="314.91" stroke="#3f62a0" stroke-width="0.9" />
<line x1="54.7" y1="299.99" x2="59.3" y2="299.99" stroke="#3f62a0" stroke-width="1.0" />
<rect x="53.30" y="314.91" width="7.40" height="38.89" fill="#2c4a82" stroke="#22407a" stroke-width="0.6"/>
<rect x="66.10" y="352.90" width="7.40" height="0.90" fill="#a80f30" stroke="#a00a2a" stroke-width="0.6"/>
<line x1="93.0" y1="332.22" x2="93.0" y2="337.02" stroke="#3f62a0" stroke-width="0.9" />
<line x1="90.7" y1="332.22" x2="95.3" y2="332.22" stroke="#3f62a0" stroke-width="1.0" />
<rect x="89.30" y="337.02" width="7.40" height="16.78" fill="#2c4a82" stroke="#22407a" stroke-width="0.6"/>
<line x1="106.2" y1="297.86" x2="106.2" y2="310.91" stroke="#c0304f" stroke-width="0.9" />
<line x1="103.9" y1="297.86" x2="108.5" y2="297.86" stroke="#c0304f" stroke-width="1.0" />
<rect x="102.50" y="310.91" width="7.40" height="42.89" fill="#a80f30" stroke="#a00a2a" stroke-width="0.6"/>
<line x1="58.6" y1="297.9" x2="69.5" y2="297.9" stroke="#222" stroke-width="1.0" />
<circle cx="62.55" cy="293.90" r="0.85" fill="#1a1a1a"/>
<circle cx="65.55" cy="293.90" r="0.85" fill="#1a1a1a"/>
<line x1="94.0" y1="294.7" x2="106.2" y2="294.7" stroke="#222" stroke-width="1.0" />
<circle cx="100.10" cy="290.70" r="0.85" fill="#1a1a1a"/>
<text font-size="8.4" text-anchor="end" fill="#222" stroke="#222" stroke-width="0.2" transform="translate(61.60 363.40) rotate(-45) scale(0.86 1)">CTL</text>
<text font-size="8.4" text-anchor="end" fill="#222" stroke="#222" stroke-width="0.2" transform="translate(74.40 363.40) rotate(-45) scale(0.86 1)">cKO</text>
<text font-size="8.4" text-anchor="end" fill="#222" stroke="#222" stroke-width="0.2" transform="translate(97.60 363.40) rotate(-45) scale(0.86 1)">CTL</text>
<text font-size="8.4" text-anchor="end" fill="#222" stroke="#222" stroke-width="0.2" transform="translate(110.80 363.40) rotate(-45) scale(0.86 1)">cKO</text>
<line x1="49.1" y1="378.3" x2="74.7" y2="378.3" stroke="#333" stroke-width="1.2" />
<text x="61.9" y="388.40000000000003" font-size="8.0" stroke="#1a1a1a" stroke-width="0.1" text-anchor="middle" >Day 10</text>
<line x1="85.5" y1="378.3" x2="110.9" y2="378.3" stroke="#333" stroke-width="1.2" />
<text x="98.2" y="388.40000000000003" font-size="8.0" stroke="#1a1a1a" stroke-width="0.1" text-anchor="middle" >Day 14</text>
<text font-size="8.8" text-anchor="middle" fill="#222" stroke="#222" stroke-width="0.36" transform="translate(27.3 320.6) rotate(-90) scale(0.764 1)">BM HSCs (x10<tspan font-size="5.46" dy="-3.52">3</tspan><tspan dy="3.52">)</tspan></text>
<line x1="168.8" y1="285.8" x2="168.8" y2="354.3" stroke="#111" stroke-width="1.1" />
<line x1="165.4" y1="353.8" x2="168.8" y2="353.8" stroke="#111" stroke-width="1.0" />
<text x="162.7" y="356.7" font-size="8.1" stroke="#222" stroke-width="0.1" text-anchor="end" fill="#222" >0</text>
<line x1="165.4" y1="340.6" x2="168.8" y2="340.6" stroke="#111" stroke-width="1.0" />
<text x="162.7" y="343.5" font-size="8.1" stroke="#222" stroke-width="0.1" text-anchor="end" fill="#222" >1</text>
<line x1="165.4" y1="327.40000000000003" x2="168.8" y2="327.40000000000003" stroke="#111" stroke-width="1.0" />
<text x="162.7" y="330.3" font-size="8.1" stroke="#222" stroke-width="0.1" text-anchor="end" fill="#222" >2</text>
<line x1="165.4" y1="314.20000000000005" x2="168.8" y2="314.20000000000005" stroke="#111" stroke-width="1.0" />
<text x="162.7" y="317.1" font-size="8.1" stroke="#222" stroke-width="0.1" text-anchor="end" fill="#222" >3</text>
<line x1="165.4" y1="301.0" x2="168.8" y2="301.0" stroke="#111" stroke-width="1.0" />
<text x="162.7" y="303.9" font-size="8.1" stroke="#222" stroke-width="0.1" text-anchor="end" fill="#222" >4</text>
<line x1="165.4" y1="287.8" x2="168.8" y2="287.8" stroke="#111" stroke-width="1.0" />
<text x="162.7" y="290.7" font-size="8.1" stroke="#222" stroke-width="0.1" text-anchor="end" fill="#222" >5</text>
<line x1="168.3" y1="353.8" x2="235.2" y2="353.8" stroke="#111" stroke-width="1.2" />
<line x1="177.0" y1="353.8" x2="177.0" y2="356.90000000000003" stroke="#111" stroke-width="1.0" />
<line x1="190.2" y1="353.8" x2="190.2" y2="356.90000000000003" stroke="#111" stroke-width="1.0" />
<line x1="212.6" y1="353.8" x2="212.6" y2="356.90000000000003" stroke="#111" stroke-width="1.0" />
<line x1="225.5" y1="353.8" x2="225.5" y2="356.90000000000003" stroke="#111" stroke-width="1.0" />
<line x1="177.0" y1="323.84" x2="177.0" y2="337.7" stroke="#3f62a0" stroke-width="0.9" />
<line x1="174.7" y1="323.84" x2="179.3" y2="323.84" stroke="#3f62a0" stroke-width="1.0" />
<rect x="173.30" y="337.70" width="7.40" height="16.10" fill="#2c4a82" stroke="#22407a" stroke-width="0.6"/>
<line x1="190.2" y1="345.88" x2="190.2" y2="350.1" stroke="#c0304f" stroke-width="0.9" />
<line x1="187.89999999999998" y1="345.88" x2="192.5" y2="345.88" stroke="#c0304f" stroke-width="1.0" />
<rect x="186.50" y="350.10" width="7.40" height="3.70" fill="#a80f30" stroke="#a00a2a" stroke-width="0.6"/>
<line x1="212.6" y1="295.32" x2="212.6" y2="303.9" stroke="#3f62a0" stroke-width="0.9" />
<line x1="210.29999999999998" y1="295.32" x2="214.9" y2="295.32" stroke="#3f62a0" stroke-width="1.0" />
<rect x="208.90" y="303.90" width="7.40" height="49.90" fill="#2c4a82" stroke="#22407a" stroke-width="0.6"/>
<line x1="225.5" y1="346.41" x2="225.5" y2="348.78" stroke="#c0304f" stroke-width="0.9" />
<line x1="223.2" y1="346.41" x2="227.8" y2="346.41" stroke="#c0304f" stroke-width="1.0" />
<rect x="221.80" y="348.78" width="7.40" height="5.02" fill="#a80f30" stroke="#a00a2a" stroke-width="0.6"/>
<line x1="213.0" y1="291.5" x2="225.2" y2="291.5" stroke="#222" stroke-width="1.0" />
<circle cx="217.60" cy="287.90" r="0.85" fill="#1a1a1a"/>
<circle cx="220.60" cy="287.90" r="0.85" fill="#1a1a1a"/>
<text font-size="8.4" text-anchor="end" fill="#222" stroke="#222" stroke-width="0.2" transform="translate(181.60 363.40) rotate(-45) scale(0.86 1)">CTL</text>
<text font-size="8.4" text-anchor="end" fill="#222" stroke="#222" stroke-width="0.2" transform="translate(194.80 363.40) rotate(-45) scale(0.86 1)">cKO</text>
<text font-size="8.4" text-anchor="end" fill="#222" stroke="#222" stroke-width="0.2" transform="translate(217.20 363.40) rotate(-45) scale(0.86 1)">CTL</text>
<text font-size="8.4" text-anchor="end" fill="#222" stroke="#222" stroke-width="0.2" transform="translate(230.10 363.40) rotate(-45) scale(0.86 1)">cKO</text>
<line x1="169.2" y1="378.0" x2="194.4" y2="378.0" stroke="#333" stroke-width="1.2" />
<text x="181.8" y="388.1" font-size="8.0" stroke="#1a1a1a" stroke-width="0.1" text-anchor="middle" >Day 10</text>
<line x1="205.4" y1="378.0" x2="230.4" y2="378.0" stroke="#333" stroke-width="1.2" />
<text x="217.9" y="388.1" font-size="8.0" stroke="#1a1a1a" stroke-width="0.1" text-anchor="middle" >Day 14</text>
<text font-size="8.8" text-anchor="middle" fill="#222" stroke="#222" stroke-width="0.36" transform="translate(152.3 320.0) rotate(-90) scale(0.705 1)">BM MPP cells (x10<tspan font-size="5.46" dy="-3.52">2</tspan><tspan dy="3.52">)</tspan></text>
<line x1="278.5" y1="284.8" x2="278.5" y2="354.3" stroke="#111" stroke-width="1.1" />
<line x1="275.1" y1="353.8" x2="278.5" y2="353.8" stroke="#111" stroke-width="1.0" />
<text x="272.4" y="356.7" font-size="8.1" stroke="#222" stroke-width="0.1" text-anchor="end" fill="#222" >0</text>
<line x1="275.1" y1="337.3" x2="278.5" y2="337.3" stroke="#111" stroke-width="1.0" />
<text x="272.4" y="340.2" font-size="8.1" stroke="#222" stroke-width="0.1" text-anchor="end" fill="#222" >0.5</text>
<line x1="275.1" y1="320.8" x2="278.5" y2="320.8" stroke="#111" stroke-width="1.0" />
<text x="272.4" y="323.7" font-size="8.1" stroke="#222" stroke-width="0.1" text-anchor="end" fill="#222" >1</text>
<line x1="275.1" y1="304.3" x2="278.5" y2="304.3" stroke="#111" stroke-width="1.0" />
<text x="272.4" y="307.2" font-size="8.1" stroke="#222" stroke-width="0.1" text-anchor="end" fill="#222" >1.5</text>
<line x1="275.1" y1="287.8" x2="278.5" y2="287.8" stroke="#111" stroke-width="1.0" />
<text x="272.4" y="290.7" font-size="8.1" stroke="#222" stroke-width="0.1" text-anchor="end" fill="#222" >2</text>
<line x1="278.0" y1="353.8" x2="344.6" y2="353.8" stroke="#111" stroke-width="1.2" />
<line x1="287.0" y1="353.8" x2="287.0" y2="356.90000000000003" stroke="#111" stroke-width="1.0" />
<line x1="300.0" y1="353.8" x2="300.0" y2="356.90000000000003" stroke="#111" stroke-width="1.0" />
<line x1="322.6" y1="353.8" x2="322.6" y2="356.90000000000003" stroke="#111" stroke-width="1.0" />
<line x1="336.2" y1="353.8" x2="336.2" y2="356.90000000000003" stroke="#111" stroke-width="1.0" />
<line x1="287.0" y1="341.26" x2="287.0" y2="345.88" stroke="#3f62a0" stroke-width="0.9" />
<line x1="284.7" y1="341.26" x2="289.3" y2="341.26" stroke="#3f62a0" stroke-width="1.0" />
<rect x="283.30" y="345.88" width="7.40" height="7.92" fill="#2c4a82" stroke="#22407a" stroke-width="0.6"/>
<rect x="296.30" y="352.90" width="7.40" height="0.90" fill="#a80f30" stroke="#a00a2a" stroke-width="0.6"/>
<line x1="322.6" y1="326.41" x2="322.6" y2="333.01" stroke="#3f62a0" stroke-width="0.9" />
<line x1="320.3" y1="326.41" x2="324.90000000000003" y2="326.41" stroke="#3f62a0" stroke-width="1.0" />
<rect x="318.90" y="333.01" width="7.40" height="20.79" fill="#2c4a82" stroke="#22407a" stroke-width="0.6"/>
<line x1="336.2" y1="306.28" x2="336.2" y2="319.48" stroke="#c0304f" stroke-width="0.9" />
<line x1="333.9" y1="306.28" x2="338.5" y2="306.28" stroke="#c0304f" stroke-width="1.0" />
<rect x="332.50" y="319.48" width="7.40" height="34.32" fill="#a80f30" stroke="#a00a2a" stroke-width="0.6"/>
<line x1="286.9" y1="337.1" x2="300.0" y2="337.1" stroke="#222" stroke-width="1.0" />
<circle cx="291.95" cy="333.10" r="0.85" fill="#1a1a1a"/>
<circle cx="294.95" cy="333.10" r="0.85" fill="#1a1a1a"/>
<text font-size="8.4" text-anchor="end" fill="#222" stroke="#222" stroke-width="0.2" transform="translate(291.60 363.40) rotate(-45) scale(0.86 1)">CTL</text>
<text font-size="8.4" text-anchor="end" fill="#222" stroke="#222" stroke-width="0.2" transform="translate(304.60 363.40) rotate(-45) scale(0.86 1)">cKO</text>
<text font-size="8.4" text-anchor="end" fill="#222" stroke="#222" stroke-width="0.2" transform="translate(327.20 363.40) rotate(-45) scale(0.86 1)">CTL</text>
<text font-size="8.4" text-anchor="end" fill="#222" stroke="#222" stroke-width="0.2" transform="translate(340.80 363.40) rotate(-45) scale(0.86 1)">cKO</text>
<line x1="278.8" y1="378.0" x2="304.4" y2="378.0" stroke="#333" stroke-width="1.2" />
<text x="291.6" y="388.1" font-size="8.0" stroke="#1a1a1a" stroke-width="0.1" text-anchor="middle" >Day 10</text>
<line x1="315.0" y1="378.0" x2="340.4" y2="378.0" stroke="#333" stroke-width="1.2" />
<text x="327.7" y="388.1" font-size="8.0" stroke="#1a1a1a" stroke-width="0.1" text-anchor="middle" >Day 14</text>
<text font-size="8.8" text-anchor="middle" fill="#222" stroke="#222" stroke-width="0.36" transform="translate(257.1 320.6) rotate(-90) scale(0.746 1)">BM HPC-1 cells (x10<tspan font-size="5.46" dy="-3.52">5</tspan><tspan dy="3.52">)</tspan></text>
<line x1="388.3" y1="285.4" x2="388.3" y2="354.3" stroke="#111" stroke-width="1.1" />
<line x1="384.90000000000003" y1="353.8" x2="388.3" y2="353.8" stroke="#111" stroke-width="1.0" />
<text x="382.2" y="356.7" font-size="8.1" stroke="#222" stroke-width="0.1" text-anchor="end" fill="#222" >0</text>
<line x1="384.90000000000003" y1="340.6" x2="388.3" y2="340.6" stroke="#111" stroke-width="1.0" />
<text x="382.2" y="343.5" font-size="8.1" stroke="#222" stroke-width="0.1" text-anchor="end" fill="#222" >0.5</text>
<line x1="384.90000000000003" y1="327.40000000000003" x2="388.3" y2="327.40000000000003" stroke="#111" stroke-width="1.0" />
<text x="382.2" y="330.3" font-size="8.1" stroke="#222" stroke-width="0.1" text-anchor="end" fill="#222" >1</text>
<line x1="384.90000000000003" y1="314.20000000000005" x2="388.3" y2="314.20000000000005" stroke="#111" stroke-width="1.0" />
<text x="382.2" y="317.1" font-size="8.1" stroke="#222" stroke-width="0.1" text-anchor="end" fill="#222" >1.5</text>
<line x1="384.90000000000003" y1="301.0" x2="388.3" y2="301.0" stroke="#111" stroke-width="1.0" />
<text x="382.2" y="303.9" font-size="8.1" stroke="#222" stroke-width="0.1" text-anchor="end" fill="#222" >2</text>
<line x1="384.90000000000003" y1="287.8" x2="388.3" y2="287.8" stroke="#111" stroke-width="1.0" />
<text x="382.2" y="290.7" font-size="8.1" stroke="#222" stroke-width="0.1" text-anchor="end" fill="#222" >2.5</text>
<line x1="387.8" y1="353.8" x2="454.6" y2="353.8" stroke="#111" stroke-width="1.2" />
<line x1="397.0" y1="353.8" x2="397.0" y2="356.90000000000003" stroke="#111" stroke-width="1.0" />
<line x1="410.4" y1="353.8" x2="410.4" y2="356.90000000000003" stroke="#111" stroke-width="1.0" />
<line x1="432.5" y1="353.8" x2="432.5" y2="356.90000000000003" stroke="#111" stroke-width="1.0" />
<line x1="446.0" y1="353.8" x2="446.0" y2="356.90000000000003" stroke="#111" stroke-width="1.0" />
<line x1="397.0" y1="308.13" x2="397.0" y2="321.33" stroke="#3f62a0" stroke-width="0.9" />
<line x1="394.7" y1="308.13" x2="399.3" y2="308.13" stroke="#3f62a0" stroke-width="1.0" />
<rect x="393.30" y="321.33" width="7.40" height="32.47" fill="#2c4a82" stroke="#22407a" stroke-width="0.6"/>
<rect x="406.70" y="352.90" width="7.40" height="0.90" fill="#a80f30" stroke="#a00a2a" stroke-width="0.6"/>
<line x1="432.5" y1="343.24" x2="432.5" y2="346.41" stroke="#3f62a0" stroke-width="0.9" />
<line x1="430.2" y1="343.24" x2="434.8" y2="343.24" stroke="#3f62a0" stroke-width="1.0" />
<rect x="428.80" y="346.41" width="7.40" height="7.39" fill="#2c4a82" stroke="#22407a" stroke-width="0.6"/>
<line x1="446.0" y1="298.36" x2="446.0" y2="318.69" stroke="#c0304f" stroke-width="0.9" />
<line x1="443.7" y1="298.36" x2="448.3" y2="298.36" stroke="#c0304f" stroke-width="1.0" />
<rect x="442.30" y="318.69" width="7.40" height="35.11" fill="#a80f30" stroke="#a00a2a" stroke-width="0.6"/>
<line x1="396.9" y1="300.2" x2="409.4" y2="300.2" stroke="#222" stroke-width="1.0" />
<circle cx="401.65" cy="296.20" r="0.85" fill="#1a1a1a"/>
<circle cx="404.65" cy="296.20" r="0.85" fill="#1a1a1a"/>
<text font-size="8.4" text-anchor="end" fill="#222" stroke="#222" stroke-width="0.2" transform="translate(401.60 363.40) rotate(-45) scale(0.86 1)">CTL</text>
<text font-size="8.4" text-anchor="end" fill="#222" stroke="#222" stroke-width="0.2" transform="translate(415.00 363.40) rotate(-45) scale(0.86 1)">cKO</text>
<text font-size="8.4" text-anchor="end" fill="#222" stroke="#222" stroke-width="0.2" transform="translate(437.10 363.40) rotate(-45) scale(0.86 1)">CTL</text>
<text font-size="8.4" text-anchor="end" fill="#222" stroke="#222" stroke-width="0.2" transform="translate(450.60 363.40) rotate(-45) scale(0.86 1)">cKO</text>
<line x1="388.8" y1="378.0" x2="414.6" y2="378.0" stroke="#333" stroke-width="1.2" />
<text x="401.7" y="388.1" font-size="8.0" stroke="#1a1a1a" stroke-width="0.1" text-anchor="middle" >Day 10</text>
<line x1="425.4" y1="378.0" x2="450.4" y2="378.0" stroke="#333" stroke-width="1.2" />
<text x="437.9" y="388.1" font-size="8.0" stroke="#1a1a1a" stroke-width="0.1" text-anchor="middle" >Day 14</text>
<text font-size="8.8" text-anchor="middle" fill="#222" stroke="#222" stroke-width="0.36" transform="translate(365.1 320.6) rotate(-90) scale(0.762 1)">BM HPC-2 cells (x10<tspan font-size="5.46" dy="-3.52">5</tspan><tspan dy="3.52">)</tspan></text>
<text font-size="11.8" font-weight="bold" fill="#000" stroke="#000" stroke-width="0.25" transform="translate(7.3 422.9) scale(0.9 1)">G</text>
<line x1="55" y1="436.8" x2="256.6" y2="436.8" stroke="#444" stroke-width="1.2" />
<line x1="269.9" y1="436.7" x2="465" y2="436.7" stroke="#444" stroke-width="1.2" />
<text x="161.6" y="432.0" font-size="8.9" stroke="#1a1a1a" stroke-width="0.1" text-anchor="middle" >Day 10</text>
<text x="371.0" y="431.8" font-size="8.9" stroke="#1a1a1a" stroke-width="0.1" text-anchor="middle" >Day 14</text>
<text x="87.9" y="447.0" font-size="8.4" stroke="#1a1a1a" stroke-width="0.1" text-anchor="middle" >PBS</text>
<clipPath id="c1"><rect x="56.1" y="452.6" width="57.9" height="54.89999999999998"/></clipPath>
<g clip-path="url(#c1)">
<g filter="url(#dm)">
<rect x="55.5" y="452.0" width="59.099999999999994" height="56.10000000000002" fill="#000"/>
<path d="M56,472 Q64,460 80,458 L104,457 L104,508 L56,508 Z" fill="#fff" opacity="0.12" filter="url(#b5)"/>
<ellipse cx="80" cy="485" rx="15" ry="12" fill="#fff" opacity="0.3" filter="url(#b4)"/>
<path d="M88,474 L97,464" stroke="#fff" stroke-width="12" stroke-linecap="round" opacity="0.36" filter="url(#b4)"/>
<rect x="84" y="459.5" width="22" height="9" fill="#fff" opacity="0.25" filter="url(#b2)"/>
<path d="M68,484.5 L55,484" stroke="#fff" stroke-width="12" stroke-linecap="round" opacity="0.38" filter="url(#b4)"/>
<path d="M72,494 L59,507" stroke="#fff" stroke-width="12" stroke-linecap="round" opacity="0.35" filter="url(#b4)"/>
<path d="M86,495 L93,508" stroke="#fff" stroke-width="12" stroke-linecap="round" opacity="0.32" filter="url(#b4)"/>
<path d="M92,485.5 L109,487" stroke="#fff" stroke-width="10" stroke-linecap="round" opacity="0.3" filter="url(#b4)"/>
<path d="M72,476 L64,463" stroke="#fff" stroke-width="10" stroke-linecap="round" opacity="0.16" filter="url(#b4)"/>
<path d="M63.5,485 Q64,481.5 68,480 L87,474.5 Q92,473.5 90,478 L83,493.5 Q80.5,498 77,494.5 L66,488 Q63,486.5 63.5,485 Z" fill="#fff" opacity="0.4" filter="url(#b1_5)"/>
<path d="M71.5,482 Q78.5,479 86.3,479.8 Q85.4,485.3 80.3,490 Q75.3,488 71.5,482 Z" fill="#fff" opacity="0.6" filter="url(#b1)"/>
</g>
</g>
<rect x="55.5" y="452.0" width="59.099999999999994" height="56.10000000000002" fill="none" stroke="#111" stroke-width="1.2"/>
<path d="M55.50,497.30h-3M55.50,500.40h-1.6M55.50,498.90h-1.6M55.50,497.77h-1.6M55.50,487.00h-3M55.50,490.10h-1.6M55.50,488.60h-1.6M55.50,487.47h-1.6M55.50,476.70h-3M55.50,479.80h-1.6M55.50,478.30h-1.6M55.50,477.17h-1.6M55.50,466.40h-3M55.50,469.50h-1.6M55.50,468.00h-1.6M55.50,466.87h-1.6M55.50,456.10h-3M55.50,459.20h-1.6M55.50,457.70h-1.6M55.50,456.57h-1.6M61.30,508.10v3M57.00,508.10v1.7M58.05,508.10v1.7M58.90,508.10v1.7M59.63,508.10v1.7M60.25,508.10v1.7M60.81,508.10v1.7M72.10,508.10v3M67.80,508.10v1.7M68.85,508.10v1.7M69.70,508.10v1.7M70.43,508.10v1.7M71.05,508.10v1.7M71.61,508.10v1.7M82.90,508.10v3M78.60,508.10v1.7M79.65,508.10v1.7M80.50,508.10v1.7M81.23,508.10v1.7M81.85,508.10v1.7M82.41,508.10v1.7M93.70,508.10v3M89.40,508.10v1.7M90.45,508.10v1.7M91.30,508.10v1.7M92.03,508.10v1.7M92.65,508.10v1.7M93.21,508.10v1.7M104.50,508.10v3M100.20,508.10v1.7M101.25,508.10v1.7M102.10,508.10v1.7M102.83,508.10v1.7M103.45,508.10v1.7M104.01,508.10v1.7" stroke="#111" stroke-width="0.9" fill="none"/>
<rect x="85.7" y="458.5" width="20.5" height="10.800000000000011" fill="none" stroke="#111" stroke-width="1.0"/>
<text x="112.0" y="456.9" font-size="4.3" stroke="#555" stroke-width="0.05" text-anchor="end" fill="#555" >0.101% ± 0.019</text>
<text font-size="9.8" text-anchor="middle" fill="#222" stroke="#222" stroke-width="0.42" transform="translate(85.2 522.4) scale(0.625 1)">Sca-1</text>
<line x1="106.2" y1="469.3" x2="106.2" y2="526.2" stroke="#111" stroke-width="1.0" />
<path d="M103.3,523.2 L106.2,530.2 L109.10000000000001,523.2 L106.2,524.6 Z" fill="#111"/>
<text x="159.2" y="447.0" font-size="8.4" stroke="#1a1a1a" stroke-width="0.1" text-anchor="middle" >CTL</text>
<clipPath id="c2"><rect x="128.3" y="452.6" width="57.5" height="54.89999999999998"/></clipPath>
<g clip-path="url(#c2)">
<g filter="url(#dm2)">
<rect x="127.7" y="452.0" width="58.7" height="56.10000000000002" fill="#000"/>
<ellipse cx="155" cy="486" rx="27" ry="24" fill="#fff" opacity="0.14" filter="url(#b5)"/>
<ellipse cx="153.5" cy="484" rx="18" ry="12" fill="#fff" opacity="0.28" transform="rotate(-68 153.5 484)" filter="url(#b4)"/>
<ellipse cx="153.5" cy="484" rx="11" ry="7" fill="#fff" opacity="0.45" transform="rotate(-68 153.5 484)" filter="url(#b2_5)"/>
<ellipse cx="153.5" cy="484.5" rx="5" ry="3.5" fill="#fff" opacity="0.35" transform="rotate(-68 153.5 484.5)" filter="url(#b1_5)"/>
<path d="M159.4,464.5 L177.3,465.5" stroke="#fff" stroke-width="5" stroke-linecap="round" opacity="0.32" filter="url(#b2)"/>
<ellipse cx="172.5" cy="465.5" rx="5.5" ry="3" fill="#fff" opacity="0.62" filter="url(#b1_5)"/>
<ellipse cx="170.5" cy="486" rx="5" ry="8" fill="#fff" opacity="0.3" filter="url(#b3)"/>
</g>
</g>
<rect x="127.7" y="452.0" width="58.7" height="56.10000000000002" fill="none" stroke="#111" stroke-width="1.2"/>
<path d="M127.70,497.30h-3M127.70,500.40h-1.6M127.70,498.90h-1.6M127.70,497.77h-1.6M127.70,487.00h-3M127.70,490.10h-1.6M127.70,488.60h-1.6M127.70,487.47h-1.6M127.70,476.70h-3M127.70,479.80h-1.6M127.70,478.30h-1.6M127.70,477.17h-1.6M127.70,466.40h-3M127.70,469.50h-1.6M127.70,468.00h-1.6M127.70,466.87h-1.6M127.70,456.10h-3M127.70,459.20h-1.6M127.70,457.70h-1.6M127.70,456.57h-1.6M133.50,508.10v3M129.20,508.10v1.7M130.25,508.10v1.7M131.10,508.10v1.7M131.83,508.10v1.7M132.45,508.10v1.7M133.01,508.10v1.7M144.30,508.10v3M140.00,508.10v1.7M141.05,508.10v1.7M141.90,508.10v1.7M142.63,508.10v1.7M143.25,508.10v1.7M143.81,508.10v1.7M155.10,508.10v3M150.80,508.10v1.7M151.85,508.10v1.7M152.70,508.10v1.7M153.43,508.10v1.7M154.05,508.10v1.7M154.61,508.10v1.7M165.90,508.10v3M161.60,508.10v1.7M162.65,508.10v1.7M163.50,508.10v1.7M164.23,508.10v1.7M164.85,508.10v1.7M165.41,508.10v1.7M176.70,508.10v3M172.40,508.10v1.7M173.45,508.10v1.7M174.30,508.10v1.7M175.03,508.10v1.7M175.65,508.10v1.7M176.21,508.10v1.7" stroke="#111" stroke-width="0.9" fill="none"/>
<rect x="158.2" y="458.5" width="20.30000000000001" height="10.800000000000011" fill="none" stroke="#111" stroke-width="1.0"/>
<text x="183.8" y="456.9" font-size="4.3" stroke="#555" stroke-width="0.05" text-anchor="end" fill="#555" >0.647% ± 0.227</text>
<text font-size="9.8" text-anchor="middle" fill="#222" stroke="#222" stroke-width="0.42" transform="translate(157.2 522.4) scale(0.625 1)">Sca-1</text>
<line x1="178.5" y1="469.3" x2="178.5" y2="526.2" stroke="#111" stroke-width="1.0" />
<path d="M175.6,523.2 L178.5,530.2 L181.4,523.2 L178.5,524.6 Z" fill="#111"/>
<text x="231.7" y="447.0" font-size="8.4" stroke="#1a1a1a" stroke-width="0.1" text-anchor="middle" >cKO</text>
<clipPath id="c3"><rect x="201.0" y="452.6" width="56.89999999999998" height="54.89999999999998"/></clipPath>
<g clip-path="url(#c3)">
<g filter="url(#dm2)">
<rect x="200.4" y="452.0" width="58.099999999999994" height="56.10000000000002" fill="#000"/>
<ellipse cx="233" cy="487" rx="25" ry="16" fill="#fff" opacity="0.15" filter="url(#b5)"/>
<ellipse cx="237" cy="487" rx="16" ry="10" fill="#fff" opacity="0.17" filter="url(#b4)"/>
<ellipse cx="247.5" cy="485" rx="4" ry="9" fill="#fff" opacity="0.55" filter="url(#b3)"/>
<ellipse cx="248" cy="485" rx="2.5" ry="5" fill="#fff" opacity="0.3" filter="url(#b1_5)"/>
</g>
</g>
<rect x="200.4" y="452.0" width="58.099999999999994" height="56.10000000000002" fill="none" stroke="#111" stroke-width="1.2"/>
<path d="M200.40,497.30h-3M200.40,500.40h-1.6M200.40,498.90h-1.6M200.40,497.77h-1.6M200.40,487.00h-3M200.40,490.10h-1.6M200.40,488.60h-1.6M200.40,487.47h-1.6M200.40,476.70h-3M200.40,479.80h-1.6M200.40,478.30h-1.6M200.40,477.17h-1.6M200.40,466.40h-3M200.40,469.50h-1.6M200.40,468.00h-1.6M200.40,466.87h-1.6M200.40,456.10h-3M200.40,459.20h-1.6M200.40,457.70h-1.6M200.40,456.57h-1.6M206.20,508.10v3M201.90,508.10v1.7M202.95,508.10v1.7M203.80,508.10v1.7M204.53,508.10v1.7M205.15,508.10v1.7M205.71,508.10v1.7M217.00,508.10v3M212.70,508.10v1.7M213.75,508.10v1.7M214.60,508.10v1.7M215.33,508.10v1.7M215.95,508.10v1.7M216.51,508.10v1.7M227.80,508.10v3M223.50,508.10v1.7M224.55,508.10v1.7M225.40,508.10v1.7M226.13,508.10v1.7M226.75,508.10v1.7M227.31,508.10v1.7M238.60,508.10v3M234.30,508.10v1.7M235.35,508.10v1.7M236.20,508.10v1.7M236.93,508.10v1.7M237.55,508.10v1.7M238.11,508.10v1.7M249.40,508.10v3M245.10,508.10v1.7M246.15,508.10v1.7M247.00,508.10v1.7M247.73,508.10v1.7M248.35,508.10v1.7M248.91,508.10v1.7" stroke="#111" stroke-width="0.9" fill="none"/>
<rect x="230.3" y="458.5" width="20.0" height="10.800000000000011" fill="none" stroke="#111" stroke-width="1.0"/>
<text x="255.9" y="456.9" font-size="4.3" stroke="#555" stroke-width="0.05" text-anchor="end" fill="#555" >0.008% ± 0.002</text>
<text font-size="9.8" text-anchor="middle" fill="#222" stroke="#222" stroke-width="0.42" transform="translate(229.6 522.4) scale(0.625 1)">Sca-1</text>
<line x1="250.3" y1="469.3" x2="250.3" y2="526.2" stroke="#111" stroke-width="1.0" />
<path d="M247.4,523.2 L250.3,530.2 L253.20000000000002,523.2 L250.3,524.6 Z" fill="#111"/>
<text x="305.0" y="447.0" font-size="8.4" stroke="#1a1a1a" stroke-width="0.1" text-anchor="middle" >PBS</text>
<clipPath id="c4"><rect x="277.0" y="452.6" width="53.0" height="54.89999999999998"/></clipPath>
<g clip-path="url(#c4)">
<g filter="url(#dm3)">
<rect x="276.4" y="452.0" width="54.200000000000045" height="56.10000000000002" fill="#000"/>
<rect x="277" y="467" width="53" height="41" fill="#fff" opacity="0.12" filter="url(#b4)"/>
<rect x="277" y="464.5" width="45" height="11.5" fill="#fff" opacity="0.34" filter="url(#b2)"/>
<ellipse cx="290" cy="470" rx="10" ry="5" fill="#fff" opacity="0.14" filter="url(#b3)"/>
<rect x="277" y="474" width="23" height="13" fill="#fff" opacity="0.28" filter="url(#b3)"/>
<ellipse cx="310" cy="480" rx="12" ry="5" fill="#fff" opacity="0.1" filter="url(#b3)"/>
<ellipse cx="292" cy="489.5" rx="13" ry="8.5" fill="#fff" opacity="0.34" filter="url(#b3)"/>
<ellipse cx="292.5" cy="489.5" rx="8" ry="5" fill="#fff" opacity="0.5" filter="url(#b2)"/>
<path d="M300,488.5 L328,488" stroke="#fff" stroke-width="8" stroke-linecap="round" opacity="0.27" filter="url(#b3)"/>
<ellipse cx="300" cy="501" rx="20" ry="6" fill="#fff" opacity="0.1" filter="url(#b4)"/>
</g>
</g>
<rect x="276.4" y="452.0" width="54.200000000000045" height="56.10000000000002" fill="none" stroke="#111" stroke-width="1.2"/>
<path d="M276.40,497.30h-3M276.40,500.40h-1.6M276.40,498.90h-1.6M276.40,497.77h-1.6M276.40,487.00h-3M276.40,490.10h-1.6M276.40,488.60h-1.6M276.40,487.47h-1.6M276.40,476.70h-3M276.40,479.80h-1.6M276.40,478.30h-1.6M276.40,477.17h-1.6M276.40,466.40h-3M276.40,469.50h-1.6M276.40,468.00h-1.6M276.40,466.87h-1.6M276.40,456.10h-3M276.40,459.20h-1.6M276.40,457.70h-1.6M276.40,456.57h-1.6M282.20,508.10v3M277.90,508.10v1.7M278.95,508.10v1.7M279.80,508.10v1.7M280.53,508.10v1.7M281.15,508.10v1.7M281.71,508.10v1.7M293.00,508.10v3M288.70,508.10v1.7M289.75,508.10v1.7M290.60,508.10v1.7M291.33,508.10v1.7M291.95,508.10v1.7M292.51,508.10v1.7M303.80,508.10v3M299.50,508.10v1.7M300.55,508.10v1.7M301.40,508.10v1.7M302.13,508.10v1.7M302.75,508.10v1.7M303.31,508.10v1.7M314.60,508.10v3M310.30,508.10v1.7M311.35,508.10v1.7M312.20,508.10v1.7M312.93,508.10v1.7M313.55,508.10v1.7M314.11,508.10v1.7M325.40,508.10v3M321.10,508.10v1.7M322.15,508.10v1.7M323.00,508.10v1.7M323.73,508.10v1.7M324.35,508.10v1.7M324.91,508.10v1.7" stroke="#111" stroke-width="0.9" fill="none"/>
<rect x="305.0" y="464.5" width="17.30000000000001" height="9.699999999999989" fill="none" stroke="#111" stroke-width="1.0"/>
<text x="328.0" y="456.9" font-size="4.3" stroke="#555" stroke-width="0.05" text-anchor="end" fill="#555" >0.125% ± 0.006</text>
<text font-size="9.8" text-anchor="middle" fill="#222" stroke="#222" stroke-width="0.42" transform="translate(303.7 522.4) scale(0.625 1)">Sca-1</text>
<line x1="322.3" y1="474.2" x2="322.3" y2="526.2" stroke="#111" stroke-width="1.0" />
<path d="M319.40000000000003,523.2 L322.3,530.2 L325.2,523.2 L322.3,524.6 Z" fill="#111"/>
<text x="371.5" y="447.0" font-size="8.4" stroke="#1a1a1a" stroke-width="0.1" text-anchor="middle" >CTL</text>
<clipPath id="c5"><rect x="345.20000000000005" y="452.6" width="52.69999999999993" height="54.89999999999998"/></clipPath>
<g clip-path="url(#c5)">
<g filter="url(#dm3)">
<rect x="344.6" y="452.0" width="53.89999999999998" height="56.10000000000002" fill="#000"/>
<rect x="345" y="467" width="53" height="41" fill="#fff" opacity="0.1" filter="url(#b4)"/>
<rect x="346" y="466.5" width="43" height="10" fill="#fff" opacity="0.3" filter="url(#b2_5)"/>
<ellipse cx="364.5" cy="472.5" rx="6" ry="3.5" fill="#fff" opacity="0.5" transform="rotate(-20 364.5 472.5)" filter="url(#b2)"/>
<path d="M358,479 L364,473" stroke="#fff" stroke-width="4" stroke-linecap="round" opacity="0.3" filter="url(#b2)"/>
<rect x="347" y="474" width="22" height="13" fill="#fff" opacity="0.24" filter="url(#b3)"/>
<ellipse cx="362.3" cy="489.5" rx="12" ry="9" fill="#fff" opacity="0.32" filter="url(#b3)"/>
<ellipse cx="362.3" cy="489.5" rx="7" ry="5" fill="#fff" opacity="0.55" filter="url(#b2)"/>
<ellipse cx="382" cy="489.5" rx="6.5" ry="3.5" fill="#fff" opacity="0.25" filter="url(#b2)"/>
</g>
</g>
<rect x="344.6" y="452.0" width="53.89999999999998" height="56.10000000000002" fill="none" stroke="#111" stroke-width="1.2"/>
<path d="M344.60,497.30h-3M344.60,500.40h-1.6M344.60,498.90h-1.6M344.60,497.77h-1.6M344.60,487.00h-3M344.60,490.10h-1.6M344.60,488.60h-1.6M344.60,487.47h-1.6M344.60,476.70h-3M344.60,479.80h-1.6M344.60,478.30h-1.6M344.60,477.17h-1.6M344.60,466.40h-3M344.60,469.50h-1.6M344.60,468.00h-1.6M344.60,466.87h-1.6M344.60,456.10h-3M344.60,459.20h-1.6M344.60,457.70h-1.6M344.60,456.57h-1.6M350.40,508.10v3M346.10,508.10v1.7M347.15,508.10v1.7M348.00,508.10v1.7M348.73,508.10v1.7M349.35,508.10v1.7M349.91,508.10v1.7M361.20,508.10v3M356.90,508.10v1.7M357.95,508.10v1.7M358.80,508.10v1.7M359.53,508.10v1.7M360.15,508.10v1.7M360.71,508.10v1.7M372.00,508.10v3M367.70,508.10v1.7M368.75,508.10v1.7M369.60,508.10v1.7M370.33,508.10v1.7M370.95,508.10v1.7M371.51,508.10v1.7M382.80,508.10v3M378.50,508.10v1.7M379.55,508.10v1.7M380.40,508.10v1.7M381.13,508.10v1.7M381.75,508.10v1.7M382.31,508.10v1.7M393.60,508.10v3M389.30,508.10v1.7M390.35,508.10v1.7M391.20,508.10v1.7M391.93,508.10v1.7M392.55,508.10v1.7M393.11,508.10v1.7" stroke="#111" stroke-width="0.9" fill="none"/>
<rect x="372.6" y="464.5" width="17.099999999999966" height="9.699999999999989" fill="none" stroke="#111" stroke-width="1.0"/>
<text x="395.9" y="456.9" font-size="4.3" stroke="#555" stroke-width="0.05" text-anchor="end" fill="#555" >0.162% ± 0.0366</text>
<text font-size="9.8" text-anchor="middle" fill="#222" stroke="#222" stroke-width="0.42" transform="translate(371.8 522.4) scale(0.625 1)">Sca-1</text>
<line x1="389.7" y1="474.2" x2="389.7" y2="526.2" stroke="#111" stroke-width="1.0" />
<path d="M386.8,523.2 L389.7,530.2 L392.59999999999997,523.2 L389.7,524.6 Z" fill="#111"/>
<text x="437.9" y="447.0" font-size="8.4" stroke="#1a1a1a" stroke-width="0.1" text-anchor="middle" >cKO</text>
<clipPath id="c6"><rect x="411.70000000000005" y="452.6" width="51.99999999999994" height="54.89999999999998"/></clipPath>
<g clip-path="url(#c6)">
<g filter="url(#dm3)">
<rect x="411.1" y="452.0" width="53.19999999999999" height="56.10000000000002" fill="#000"/>
<rect x="412" y="467" width="51" height="41" fill="#fff" opacity="0.15" filter="url(#b4)"/>
<rect x="414" y="467" width="43" height="9" fill="#fff" opacity="0.3" filter="url(#b2_5)"/>
<ellipse cx="442" cy="471" rx="14" ry="3" fill="#fff" opacity="0.45" filter="url(#b2)"/>
<ellipse cx="426" cy="485" rx="12" ry="16" fill="#fff" opacity="0.32" filter="url(#b4)"/>
<ellipse cx="429" cy="490.5" rx="6" ry="5" fill="#fff" opacity="0.45" filter="url(#b2)"/>
<path d="M424.5,491.7 L432.8,473.8" stroke="#fff" stroke-width="4" stroke-linecap="round" opacity="0.3" filter="url(#b2)"/>
</g>
</g>
<rect x="411.1" y="452.0" width="53.19999999999999" height="56.10000000000002" fill="none" stroke="#111" stroke-width="1.2"/>
<path d="M411.10,497.30h-3M411.10,500.40h-1.6M411.10,498.90h-1.6M411.10,497.77h-1.6M411.10,487.00h-3M411.10,490.10h-1.6M411.10,488.60h-1.6M411.10,487.47h-1.6M411.10,476.70h-3M411.10,479.80h-1.6M411.10,478.30h-1.6M411.10,477.17h-1.6M411.10,466.40h-3M411.10,469.50h-1.6M411.10,468.00h-1.6M411.10,466.87h-1.6M411.10,456.10h-3M411.10,459.20h-1.6M411.10,457.70h-1.6M411.10,456.57h-1.6M416.90,508.10v3M412.60,508.10v1.7M413.65,508.10v1.7M414.50,508.10v1.7M415.23,508.10v1.7M415.85,508.10v1.7M416.41,508.10v1.7M427.70,508.10v3M423.40,508.10v1.7M424.45,508.10v1.7M425.30,508.10v1.7M426.03,508.10v1.7M426.65,508.10v1.7M427.21,508.10v1.7M438.50,508.10v3M434.20,508.10v1.7M435.25,508.10v1.7M436.10,508.10v1.7M436.83,508.10v1.7M437.45,508.10v1.7M438.01,508.10v1.7M449.30,508.10v3M445.00,508.10v1.7M446.05,508.10v1.7M446.90,508.10v1.7M447.63,508.10v1.7M448.25,508.10v1.7M448.81,508.10v1.7M460.10,508.10v3M455.80,508.10v1.7M456.85,508.10v1.7M457.70,508.10v1.7M458.43,508.10v1.7M459.05,508.10v1.7M459.61,508.10v1.7" stroke="#111" stroke-width="0.9" fill="none"/>
<rect x="439.5" y="464.5" width="17.100000000000023" height="9.699999999999989" fill="none" stroke="#111" stroke-width="1.0"/>
<text x="461.7" y="456.9" font-size="4.3" stroke="#555" stroke-width="0.05" text-anchor="end" fill="#555" >0.6175% ± 0.2319</text>
<text font-size="9.8" text-anchor="middle" fill="#222" stroke="#222" stroke-width="0.42" transform="translate(437.9 522.4) scale(0.625 1)">Sca-1</text>
<line x1="456.6" y1="474.2" x2="456.6" y2="526.2" stroke="#111" stroke-width="1.0" />
<path d="M453.70000000000005,523.2 L456.6,530.2 L459.5,523.2 L456.6,524.6 Z" fill="#111"/>
<circle cx="253.20000000000002" cy="460.0" r="0.8" fill="#a046bc"/><circle cx="255.6" cy="460.0" r="0.8" fill="#a046bc"/>
<line x1="46.3" y1="462.6" x2="46.3" y2="491.8" stroke="#222" stroke-width="1.0" />
<path d="M43.3,465.6 L46.3,458.6 L49.3,465.6 L46.3,464.20000000000005 Z" fill="#111"/>
<text font-size="8.8" text-anchor="middle" fill="#222" stroke="#222" stroke-width="0.42" transform="translate(48.4 505.0) rotate(-90) scale(0.761 1)">c-Kit</text>
<line x1="269.8" y1="462.6" x2="269.8" y2="484.4" stroke="#222" stroke-width="1.0" />
<path d="M266.8,465.6 L269.8,458.6 L272.8,465.6 L269.8,464.20000000000005 Z" fill="#111"/>
<text font-size="8.8" text-anchor="middle" fill="#222" stroke="#222" stroke-width="0.42" transform="translate(271.8 496.7) rotate(-90) scale(0.824 1)">c-Kit</text>
<line x1="46.3" y1="538.8" x2="46.3" y2="565.5" stroke="#222" stroke-width="1.0" />
<path d="M43.3,541.8 L46.3,534.8 L49.3,541.8 L46.3,540.4 Z" fill="#111"/>
<text font-size="9.8" text-anchor="middle" fill="#222" stroke="#222" stroke-width="0.42" transform="translate(48.9 584.0) rotate(-90) scale(0.679 1)">CD48</text>
<line x1="269.8" y1="538.8" x2="269.8" y2="558.0" stroke="#222" stroke-width="1.0" />
<path d="M266.8,541.8 L269.8,534.8 L272.8,541.8 L269.8,540.4 Z" fill="#111"/>
<text font-size="9.8" text-anchor="middle" fill="#222" stroke="#222" stroke-width="0.42" transform="translate(272.0 577.2) rotate(-90) scale(0.698 1)">CD48</text>
<clipPath id="c7"><rect x="57.1" y="531.7" width="55.00000000000001" height="54.999999999999886"/></clipPath>
<g clip-path="url(#c7)">
<g filter="url(#dm4)">
<rect x="56.5" y="531.1" width="56.2" height="56.19999999999993" fill="#000"/>
<ellipse cx="76" cy="548" rx="20" ry="12" fill="rgb(25,23,0)" opacity="0.9" filter="url(#b4)"/>
<path d="M72,547 L97,567" stroke="rgb(37,34,0)" stroke-width="11" stroke-linecap="round" opacity="0.9" filter="url(#b4)"/>
<ellipse cx="76" cy="545" rx="14" ry="6.5" fill="rgb(74,85,0)" opacity="0.9" filter="url(#b3)"/>
<ellipse cx="78" cy="544.5" rx="7" ry="3.5" fill="rgb(128,198,0)" opacity="0.9" filter="url(#b2)"/>
</g>
</g>
<line x1="84.5" y1="531.1" x2="84.5" y2="587.3" stroke="#111" stroke-width="1.1" />
<line x1="56.5" y1="551.3" x2="112.7" y2="551.3" stroke="#111" stroke-width="1.1" />
<rect x="56.5" y="531.1" width="56.2" height="56.19999999999993" fill="none" stroke="#111" stroke-width="1.2"/>
<path d="M56.50,576.50h-3M56.50,579.60h-1.6M56.50,578.10h-1.6M56.50,576.97h-1.6M56.50,566.20h-3M56.50,569.30h-1.6M56.50,567.80h-1.6M56.50,566.67h-1.6M56.50,555.90h-3M56.50,559.00h-1.6M56.50,557.50h-1.6M56.50,556.37h-1.6M56.50,545.60h-3M56.50,548.70h-1.6M56.50,547.20h-1.6M56.50,546.07h-1.6M56.50,535.30h-3M56.50,538.40h-1.6M56.50,536.90h-1.6M56.50,535.77h-1.6M62.30,587.30v3M58.00,587.30v1.7M59.05,587.30v1.7M59.90,587.30v1.7M60.63,587.30v1.7M61.25,587.30v1.7M61.81,587.30v1.7M73.10,587.30v3M68.80,587.30v1.7M69.85,587.30v1.7M70.70,587.30v1.7M71.43,587.30v1.7M72.05,587.30v1.7M72.61,587.30v1.7M83.90,587.30v3M79.60,587.30v1.7M80.65,587.30v1.7M81.50,587.30v1.7M82.23,587.30v1.7M82.85,587.30v1.7M83.41,587.30v1.7M94.70,587.30v3M90.40,587.30v1.7M91.45,587.30v1.7M92.30,587.30v1.7M93.03,587.30v1.7M93.65,587.30v1.7M94.21,587.30v1.7M105.50,587.30v3M101.20,587.30v1.7M102.25,587.30v1.7M103.10,587.30v1.7M103.83,587.30v1.7M104.45,587.30v1.7M105.01,587.30v1.7" stroke="#111" stroke-width="0.9" fill="none"/>
<text x="58.0" y="535.2" font-size="4.3" stroke="#555" stroke-width="0.05" fill="#555" >0.072%</text>
<text x="58.0" y="539.7" font-size="4.3" stroke="#555" stroke-width="0.05" fill="#555" >± 0.019</text>
<text x="111.3" y="535.2" font-size="4.3" stroke="#555" stroke-width="0.05" text-anchor="end" fill="#555" >0.007%</text>
<text x="111.3" y="539.7" font-size="4.3" stroke="#555" stroke-width="0.05" text-anchor="end" fill="#555" >± 0.002</text>
<text x="58.0" y="581.9" font-size="4.3" stroke="#555" stroke-width="0.05" fill="#555" >0.013%</text>
<text x="58.0" y="586.3" font-size="4.3" stroke="#555" stroke-width="0.05" fill="#555" >± 0.002</text>
<text x="111.3" y="581.9" font-size="4.3" stroke="#555" stroke-width="0.05" text-anchor="end" fill="#555" >0.0088%</text>
<text x="111.3" y="586.3" font-size="4.3" stroke="#555" stroke-width="0.05" text-anchor="end" fill="#555" >± 0.0005</text>
<text font-size="10.0" text-anchor="middle" fill="#222" stroke="#222" stroke-width="0.42" transform="translate(85.1 601.9) scale(0.598 1)">CD150</text>
<clipPath id="c8"><rect x="129.1" y="531.7" width="56.70000000000002" height="54.999999999999886"/></clipPath>
<g clip-path="url(#c8)">
<g filter="url(#dm4)">
<rect x="128.5" y="531.1" width="57.900000000000006" height="56.19999999999993" fill="#000"/>
<path d="M144,541 L172,543" stroke="rgb(57,71,0)" stroke-width="7" stroke-linecap="round" opacity="0.9" filter="url(#b3)"/>
<path d="M165,549 L168,563" stroke="rgb(51,57,0)" stroke-width="10" stroke-linecap="round" opacity="0.9" filter="url(#b3)"/>
<ellipse cx="163" cy="544.5" rx="11" ry="6" fill="rgb(96,128,0)" opacity="0.9" filter="url(#b2_5)"/>
<ellipse cx="161" cy="543.5" rx="4.5" ry="2.5" fill="rgb(113,198,0)" opacity="0.9" filter="url(#b1_5)"/>
</g>
</g>
<line x1="156.4" y1="531.1" x2="156.4" y2="587.3" stroke="#111" stroke-width="1.1" />
<line x1="128.5" y1="551.3" x2="186.4" y2="551.3" stroke="#111" stroke-width="1.1" />
<rect x="128.5" y="531.1" width="57.900000000000006" height="56.19999999999993" fill="none" stroke="#111" stroke-width="1.2"/>
<path d="M128.50,576.50h-3M128.50,579.60h-1.6M128.50,578.10h-1.6M128.50,576.97h-1.6M128.50,566.20h-3M128.50,569.30h-1.6M128.50,567.80h-1.6M128.50,566.67h-1.6M128.50,555.90h-3M128.50,559.00h-1.6M128.50,557.50h-1.6M128.50,556.37h-1.6M128.50,545.60h-3M128.50,548.70h-1.6M128.50,547.20h-1.6M128.50,546.07h-1.6M128.50,535.30h-3M128.50,538.40h-1.6M128.50,536.90h-1.6M128.50,535.77h-1.6M134.30,587.30v3M130.00,587.30v1.7M131.05,587.30v1.7M131.90,587.30v1.7M132.63,587.30v1.7M133.25,587.30v1.7M133.81,587.30v1.7M145.10,587.30v3M140.80,587.30v1.7M141.85,587.30v1.7M142.70,587.30v1.7M143.43,587.30v1.7M144.05,587.30v1.7M144.61,587.30v1.7M155.90,587.30v3M151.60,587.30v1.7M152.65,587.30v1.7M153.50,587.30v1.7M154.23,587.30v1.7M154.85,587.30v1.7M155.41,587.30v1.7M166.70,587.30v3M162.40,587.30v1.7M163.45,587.30v1.7M164.30,587.30v1.7M165.03,587.30v1.7M165.65,587.30v1.7M166.21,587.30v1.7M177.50,587.30v3M173.20,587.30v1.7M174.25,587.30v1.7M175.10,587.30v1.7M175.83,587.30v1.7M176.45,587.30v1.7M177.01,587.30v1.7" stroke="#111" stroke-width="0.9" fill="none"/>
<text x="130.0" y="535.2" font-size="4.3" stroke="#555" stroke-width="0.05" fill="#555" >0.1027%</text>
<text x="130.0" y="539.7" font-size="4.3" stroke="#555" stroke-width="0.05" fill="#555" >± 0.037</text>
<text x="185.0" y="535.2" font-size="4.3" stroke="#555" stroke-width="0.05" text-anchor="end" fill="#555" >0.4872%</text>
<text x="185.0" y="539.7" font-size="4.3" stroke="#555" stroke-width="0.05" text-anchor="end" fill="#555" >± 0.176</text>
<text x="130.0" y="581.9" font-size="4.3" stroke="#555" stroke-width="0.05" fill="#555" >0.0004%</text>
<text x="130.0" y="586.3" font-size="4.3" stroke="#555" stroke-width="0.05" fill="#555" >± 0.0003</text>
<text x="185.0" y="581.9" font-size="4.3" stroke="#555" stroke-width="0.05" text-anchor="end" fill="#555" >0.058%</text>
<text x="185.0" y="586.3" font-size="4.3" stroke="#555" stroke-width="0.05" text-anchor="end" fill="#555" >± 0.017</text>
<text font-size="10.0" text-anchor="middle" fill="#222" stroke="#222" stroke-width="0.42" transform="translate(157.9 601.9) scale(0.598 1)">CD150</text>
<clipPath id="c9"><rect x="201.1" y="531.7" width="56.79999999999998" height="54.999999999999886"/></clipPath>
<g clip-path="url(#c9)">
<g filter="url(#dm4)">
<rect x="200.5" y="531.1" width="58.0" height="56.19999999999993" fill="#000"/>
<ellipse cx="232" cy="555" rx="22" ry="22" fill="rgb(3,14,0)" opacity="0.9" filter="url(#b5)"/>
</g>
</g>
<line x1="228.5" y1="531.1" x2="228.5" y2="587.3" stroke="#111" stroke-width="1.1" />
<line x1="200.5" y1="551.5" x2="258.5" y2="551.5" stroke="#111" stroke-width="1.1" />
<rect x="200.5" y="531.1" width="58.0" height="56.19999999999993" fill="none" stroke="#111" stroke-width="1.2"/>
<path d="M200.50,576.50h-3M200.50,579.60h-1.6M200.50,578.10h-1.6M200.50,576.97h-1.6M200.50,566.20h-3M200.50,569.30h-1.6M200.50,567.80h-1.6M200.50,566.67h-1.6M200.50,555.90h-3M200.50,559.00h-1.6M200.50,557.50h-1.6M200.50,556.37h-1.6M200.50,545.60h-3M200.50,548.70h-1.6M200.50,547.20h-1.6M200.50,546.07h-1.6M200.50,535.30h-3M200.50,538.40h-1.6M200.50,536.90h-1.6M200.50,535.77h-1.6M206.30,587.30v3M202.00,587.30v1.7M203.05,587.30v1.7M203.90,587.30v1.7M204.63,587.30v1.7M205.25,587.30v1.7M205.81,587.30v1.7M217.10,587.30v3M212.80,587.30v1.7M213.85,587.30v1.7M214.70,587.30v1.7M215.43,587.30v1.7M216.05,587.30v1.7M216.61,587.30v1.7M227.90,587.30v3M223.60,587.30v1.7M224.65,587.30v1.7M225.50,587.30v1.7M226.23,587.30v1.7M226.85,587.30v1.7M227.41,587.30v1.7M238.70,587.30v3M234.40,587.30v1.7M235.45,587.30v1.7M236.30,587.30v1.7M237.03,587.30v1.7M237.65,587.30v1.7M238.21,587.30v1.7M249.50,587.30v3M245.20,587.30v1.7M246.25,587.30v1.7M247.10,587.30v1.7M247.83,587.30v1.7M248.45,587.30v1.7M249.01,587.30v1.7" stroke="#111" stroke-width="0.9" fill="none"/>
<text x="202.0" y="535.2" font-size="4.3" stroke="#555" stroke-width="0.05" fill="#555" >0.0005%</text>
<text x="202.0" y="539.7" font-size="4.3" stroke="#555" stroke-width="0.05" fill="#555" >± 0.00022</text>
<text x="257.1" y="535.2" font-size="4.3" stroke="#555" stroke-width="0.05" text-anchor="end" fill="#555" >0.0045%</text>
<text x="257.1" y="539.7" font-size="4.3" stroke="#555" stroke-width="0.05" text-anchor="end" fill="#555" >± 0.0025</text>
<text x="202.0" y="581.9" font-size="4.3" stroke="#555" stroke-width="0.05" fill="#555" >0.0002%</text>
<text x="202.0" y="586.3" font-size="4.3" stroke="#555" stroke-width="0.05" fill="#555" >± 0.00012</text>
<text x="257.1" y="581.9" font-size="4.3" stroke="#555" stroke-width="0.05" text-anchor="end" fill="#555" >0.0011%</text>
<text x="257.1" y="586.3" font-size="4.3" stroke="#555" stroke-width="0.05" text-anchor="end" fill="#555" >± 0.00041</text>
<text font-size="10.0" text-anchor="middle" fill="#222" stroke="#222" stroke-width="0.42" transform="translate(230.0 601.9) scale(0.598 1)">CD150</text>
<clipPath id="c10"><rect x="276.8" y="531.7" width="53.099999999999966" height="54.999999999999886"/></clipPath>
<g clip-path="url(#c10)">
<g filter="url(#dm4)">
<rect x="276.2" y="531.1" width="54.30000000000001" height="56.19999999999993" fill="#000"/>
<path d="M290,550 L305,566" stroke="rgb(20,23,0)" stroke-width="11" stroke-linecap="round" opacity="0.9" filter="url(#b4)"/>
<ellipse cx="290" cy="543.5" rx="12" ry="5" fill="rgb(57,57,0)" opacity="0.9" filter="url(#b3)"/>
<ellipse cx="290.5" cy="543.5" rx="5" ry="2.5" fill="rgb(74,99,0)" opacity="0.9" filter="url(#b2)"/>
<ellipse cx="303" cy="546" rx="4.5" ry="2.5" fill="rgb(42,71,0)" opacity="0.9" filter="url(#b2)"/>
</g>
</g>
<line x1="299.7" y1="531.1" x2="299.7" y2="587.3" stroke="#111" stroke-width="1.1" />
<line x1="276.2" y1="551.8" x2="330.5" y2="551.8" stroke="#111" stroke-width="1.1" />
<rect x="276.2" y="531.1" width="54.30000000000001" height="56.19999999999993" fill="none" stroke="#111" stroke-width="1.2"/>
<path d="M276.20,576.50h-3M276.20,579.60h-1.6M276.20,578.10h-1.6M276.20,576.97h-1.6M276.20,566.20h-3M276.20,569.30h-1.6M276.20,567.80h-1.6M276.20,566.67h-1.6M276.20,555.90h-3M276.20,559.00h-1.6M276.20,557.50h-1.6M276.20,556.37h-1.6M276.20,545.60h-3M276.20,548.70h-1.6M276.20,547.20h-1.6M276.20,546.07h-1.6M276.20,535.30h-3M276.20,538.40h-1.6M276.20,536.90h-1.6M276.20,535.77h-1.6M282.00,587.30v3M277.70,587.30v1.7M278.75,587.30v1.7M279.60,587.30v1.7M280.33,587.30v1.7M280.95,587.30v1.7M281.51,587.30v1.7M292.80,587.30v3M288.50,587.30v1.7M289.55,587.30v1.7M290.40,587.30v1.7M291.13,587.30v1.7M291.75,587.30v1.7M292.31,587.30v1.7M303.60,587.30v3M299.30,587.30v1.7M300.35,587.30v1.7M301.20,587.30v1.7M301.93,587.30v1.7M302.55,587.30v1.7M303.11,587.30v1.7M314.40,587.30v3M310.10,587.30v1.7M311.15,587.30v1.7M312.00,587.30v1.7M312.73,587.30v1.7M313.35,587.30v1.7M313.91,587.30v1.7M325.20,587.30v3M320.90,587.30v1.7M321.95,587.30v1.7M322.80,587.30v1.7M323.53,587.30v1.7M324.15,587.30v1.7M324.71,587.30v1.7" stroke="#111" stroke-width="0.9" fill="none"/>
<text x="277.7" y="535.2" font-size="4.3" stroke="#555" stroke-width="0.05" fill="#555" >0.087%</text>
<text x="277.7" y="539.7" font-size="4.3" stroke="#555" stroke-width="0.05" fill="#555" >± 0.003</text>
<text x="329.1" y="535.2" font-size="4.3" stroke="#555" stroke-width="0.05" text-anchor="end" fill="#555" >0.0118%</text>
<text x="329.1" y="539.7" font-size="4.3" stroke="#555" stroke-width="0.05" text-anchor="end" fill="#555" >± 0.0022</text>
<text x="277.7" y="581.9" font-size="4.3" stroke="#555" stroke-width="0.05" fill="#555" >0.013%</text>
<text x="277.7" y="586.3" font-size="4.3" stroke="#555" stroke-width="0.05" fill="#555" >± 0.001</text>
<text x="329.1" y="581.9" font-size="4.3" stroke="#555" stroke-width="0.05" text-anchor="end" fill="#555" >0.0098%</text>
<text x="329.1" y="586.3" font-size="4.3" stroke="#555" stroke-width="0.05" text-anchor="end" fill="#555" >± 0.00002</text>
<text font-size="10.0" text-anchor="middle" fill="#222" stroke="#222" stroke-width="0.42" transform="translate(303.9 601.9) scale(0.598 1)">CD150</text>
<clipPath id="c11"><rect x="344.1" y="531.7" width="53.099999999999966" height="54.999999999999886"/></clipPath>
<g clip-path="url(#c11)">
<g filter="url(#dm4)">
<rect x="343.5" y="531.1" width="54.30000000000001" height="56.19999999999993" fill="#000"/>
<path d="M349,541 L377,545" stroke="rgb(57,71,0)" stroke-width="8" stroke-linecap="round" opacity="0.9" filter="url(#b3)"/>
<ellipse cx="377" cy="551" rx="7.5" ry="7.5" fill="rgb(48,57,0)" opacity="0.9" filter="url(#b3)"/>
</g>
</g>
<line x1="367.3" y1="531.1" x2="367.3" y2="587.3" stroke="#111" stroke-width="1.1" />
<line x1="343.5" y1="552.3" x2="397.8" y2="552.3" stroke="#111" stroke-width="1.1" />
<rect x="343.5" y="531.1" width="54.30000000000001" height="56.19999999999993" fill="none" stroke="#111" stroke-width="1.2"/>
<path d="M343.50,576.50h-3M343.50,579.60h-1.6M343.50,578.10h-1.6M343.50,576.97h-1.6M343.50,566.20h-3M343.50,569.30h-1.6M343.50,567.80h-1.6M343.50,566.67h-1.6M343.50,555.90h-3M343.50,559.00h-1.6M343.50,557.50h-1.6M343.50,556.37h-1.6M343.50,545.60h-3M343.50,548.70h-1.6M343.50,547.20h-1.6M343.50,546.07h-1.6M343.50,535.30h-3M343.50,538.40h-1.6M343.50,536.90h-1.6M343.50,535.77h-1.6M349.30,587.30v3M345.00,587.30v1.7M346.05,587.30v1.7M346.90,587.30v1.7M347.63,587.30v1.7M348.25,587.30v1.7M348.81,587.30v1.7M360.10,587.30v3M355.80,587.30v1.7M356.85,587.30v1.7M357.70,587.30v1.7M358.43,587.30v1.7M359.05,587.30v1.7M359.61,587.30v1.7M370.90,587.30v3M366.60,587.30v1.7M367.65,587.30v1.7M368.50,587.30v1.7M369.23,587.30v1.7M369.85,587.30v1.7M370.41,587.30v1.7M381.70,587.30v3M377.40,587.30v1.7M378.45,587.30v1.7M379.30,587.30v1.7M380.03,587.30v1.7M380.65,587.30v1.7M381.21,587.30v1.7M392.50,587.30v3M388.20,587.30v1.7M389.25,587.30v1.7M390.10,587.30v1.7M390.83,587.30v1.7M391.45,587.30v1.7M392.01,587.30v1.7" stroke="#111" stroke-width="0.9" fill="none"/>
<text x="345.0" y="535.2" font-size="4.3" stroke="#555" stroke-width="0.05" fill="#555" >0.1010%</text>
<text x="345.0" y="539.7" font-size="4.3" stroke="#555" stroke-width="0.05" fill="#555" >± 0.0233</text>
<text x="396.40000000000003" y="535.2" font-size="4.3" stroke="#555" stroke-width="0.05" text-anchor="end" fill="#555" >0.0497%</text>
<text x="396.40000000000003" y="539.7" font-size="4.3" stroke="#555" stroke-width="0.05" text-anchor="end" fill="#555" >± 0.0136</text>
<text x="345.0" y="581.9" font-size="4.3" stroke="#555" stroke-width="0.05" fill="#555" >0.0006%</text>
<text x="345.0" y="586.3" font-size="4.3" stroke="#555" stroke-width="0.05" fill="#555" >± 0.00006</text>
<text x="396.40000000000003" y="581.9" font-size="4.3" stroke="#555" stroke-width="0.05" text-anchor="end" fill="#555" >0.0109%</text>
<text x="396.40000000000003" y="586.3" font-size="4.3" stroke="#555" stroke-width="0.05" text-anchor="end" fill="#555" >± 0.002</text>
<text font-size="10.0" text-anchor="middle" fill="#222" stroke="#222" stroke-width="0.42" transform="translate(371.1 601.9) scale(0.598 1)">CD150</text>
<clipPath id="c12"><rect x="412.1" y="531.7" width="52.799999999999955" height="54.999999999999886"/></clipPath>
<g clip-path="url(#c12)">
<g filter="url(#dm4)">
<rect x="411.5" y="531.1" width="54.0" height="56.19999999999993" fill="#000"/>
<ellipse cx="448" cy="552" rx="7.5" ry="11" fill="rgb(45,71,0)" opacity="0.9" filter="url(#b3)"/>
<path d="M417,541 L452,542.5" stroke="rgb(91,128,0)" stroke-width="6.5" stroke-linecap="round" opacity="0.9" filter="url(#b2_5)"/>
<path d="M424,540.5 L442,541.8" stroke="rgb(142,241,0)" stroke-width="3" stroke-linecap="round" opacity="0.9" filter="url(#b1_5)"/>
</g>
</g>
<line x1="435.0" y1="531.1" x2="435.0" y2="587.3" stroke="#111" stroke-width="1.1" />
<line x1="411.5" y1="551.5" x2="465.5" y2="551.5" stroke="#111" stroke-width="1.1" />
<rect x="411.5" y="531.1" width="54.0" height="56.19999999999993" fill="none" stroke="#111" stroke-width="1.2"/>
<path d="M411.50,576.50h-3M411.50,579.60h-1.6M411.50,578.10h-1.6M411.50,576.97h-1.6M411.50,566.20h-3M411.50,569.30h-1.6M411.50,567.80h-1.6M411.50,566.67h-1.6M411.50,555.90h-3M411.50,559.00h-1.6M411.50,557.50h-1.6M411.50,556.37h-1.6M411.50,545.60h-3M411.50,548.70h-1.6M411.50,547.20h-1.6M411.50,546.07h-1.6M411.50,535.30h-3M411.50,538.40h-1.6M411.50,536.90h-1.6M411.50,535.77h-1.6M417.30,587.30v3M413.00,587.30v1.7M414.05,587.30v1.7M414.90,587.30v1.7M415.63,587.30v1.7M416.25,587.30v1.7M416.81,587.30v1.7M428.10,587.30v3M423.80,587.30v1.7M424.85,587.30v1.7M425.70,587.30v1.7M426.43,587.30v1.7M427.05,587.30v1.7M427.61,587.30v1.7M438.90,587.30v3M434.60,587.30v1.7M435.65,587.30v1.7M436.50,587.30v1.7M437.23,587.30v1.7M437.85,587.30v1.7M438.41,587.30v1.7M449.70,587.30v3M445.40,587.30v1.7M446.45,587.30v1.7M447.30,587.30v1.7M448.03,587.30v1.7M448.65,587.30v1.7M449.21,587.30v1.7M460.50,587.30v3M456.20,587.30v1.7M457.25,587.30v1.7M458.10,587.30v1.7M458.83,587.30v1.7M459.45,587.30v1.7M460.01,587.30v1.7" stroke="#111" stroke-width="0.9" fill="none"/>
<text x="413.0" y="535.2" font-size="4.3" stroke="#555" stroke-width="0.05" fill="#555" >0.26%</text>
<text x="413.0" y="539.7" font-size="4.3" stroke="#555" stroke-width="0.05" fill="#555" >± 0.0706</text>
<text x="464.1" y="535.2" font-size="4.3" stroke="#555" stroke-width="0.05" text-anchor="end" fill="#555" >0.32%</text>
<text x="464.1" y="539.7" font-size="4.3" stroke="#555" stroke-width="0.05" text-anchor="end" fill="#555" >± 0.1537</text>
<text x="413.0" y="581.9" font-size="4.3" stroke="#555" stroke-width="0.05" fill="#555" >0.0001%</text>
<text x="413.0" y="586.3" font-size="4.3" stroke="#555" stroke-width="0.05" fill="#555" >± 0.00004</text>
<text x="464.1" y="581.9" font-size="4.3" stroke="#555" stroke-width="0.05" text-anchor="end" fill="#555" >0.408%</text>
<text x="464.1" y="586.3" font-size="4.3" stroke="#555" stroke-width="0.05" text-anchor="end" fill="#555" >± 0.0083</text>
<text font-size="10.0" text-anchor="middle" fill="#222" stroke="#222" stroke-width="0.42" transform="translate(439.0 601.9) scale(0.598 1)">CD150</text>
<circle cx="203.4" cy="543.8" r="0.8" fill="#a046bc"/><circle cx="205.79999999999998" cy="543.8" r="0.8" fill="#a046bc"/>
<circle cx="253.4" cy="543.8" r="0.8" fill="#a046bc"/><circle cx="255.79999999999998" cy="543.8" r="0.8" fill="#a046bc"/>
<circle cx="253.4" cy="572.3" r="0.8" fill="#a046bc"/><circle cx="255.79999999999998" cy="572.3" r="0.8" fill="#a046bc"/>
<circle cx="412.40000000000003" cy="542.0" r="0.8" fill="#a046bc"/><circle cx="414.8" cy="542.0" r="0.8" fill="#a046bc"/>
<circle cx="458.40000000000003" cy="542.0" r="0.8" fill="#a046bc"/><circle cx="460.8" cy="542.0" r="0.8" fill="#a046bc"/>
<circle cx="413.2" cy="577.2" r="0.8" fill="#a046bc"/><circle cx="415.59999999999997" cy="577.2" r="0.8" fill="#a046bc"/>
<circle cx="458.40000000000003" cy="577.2" r="0.8" fill="#a046bc"/><circle cx="460.8" cy="577.2" r="0.8" fill="#a046bc"/>
<path d="M0,0H520V611H0Z M1.2,1.2V609.7H518.7V1.2Z" fill="#111" fill-rule="evenodd"/>
</svg>
</body></html>
